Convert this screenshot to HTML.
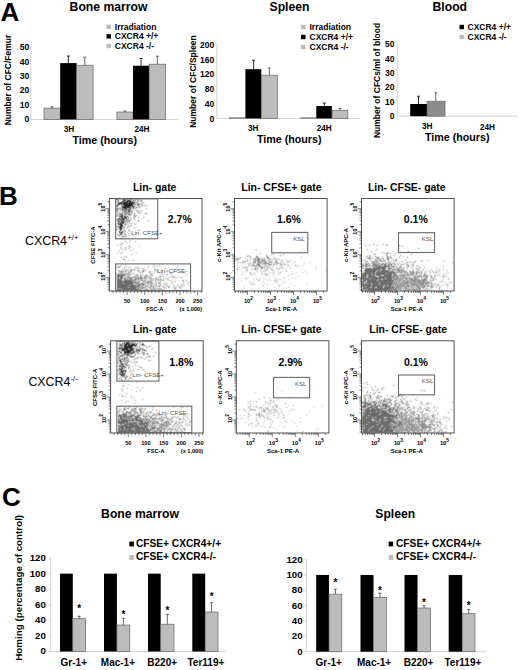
<!DOCTYPE html>
<html><head><meta charset="utf-8"><style>
html,body{margin:0;padding:0;background:#fff;overflow:hidden;width:520px;height:670px;}
svg{display:block;}
text{font-family:"Liberation Sans", sans-serif;}
</style></head><body>
<svg width="520" height="670" viewBox="0 0 520 670">
<defs><filter id="bl" x="-5%" y="-5%" width="110%" height="110%"><feConvolveMatrix order="3" kernelMatrix="1 2 1 2 8 2 1 2 1" edgeMode="none"/></filter></defs>
<rect width="520" height="670" fill="#fff"/>
<text x="0.5" y="21" font-size="26" font-weight="bold" text-anchor="start" fill="#000" >A</text>
<text x="69.6" y="11.2" font-size="12.2" font-weight="bold" text-anchor="start" fill="#000" >Bone marrow</text>
<rect x="106.50" y="24.60" width="4.50" height="4.40" fill="#bcbcbc"/>
<text x="114.8" y="29.8" font-size="8.5" font-weight="bold" text-anchor="start" fill="#000" >Irradiation</text>
<rect x="106.50" y="34.20" width="4.50" height="4.40" fill="#000"/>
<text x="114.8" y="39.4" font-size="8.5" font-weight="bold" text-anchor="start" fill="#000" >CXCR4 +/+</text>
<rect x="106.50" y="43.80" width="4.50" height="4.40" fill="#bcbcbc"/>
<text x="114.8" y="49.0" font-size="8.5" font-weight="bold" text-anchor="start" fill="#000" >CXCR4 -/-</text>
<line x1="30.8" y1="46" x2="30.8" y2="119.5" stroke="#c8c8c8" stroke-width="0.8"/>
<line x1="30.8" y1="119.5" x2="178" y2="119.5" stroke="#c8c8c8" stroke-width="0.8"/>
<text x="29.2" y="122.4" font-size="8.6" font-weight="bold" text-anchor="end" fill="#000" >0</text>
<line x1="29.8" y1="119.4" x2="30.8" y2="119.4" stroke="#c8c8c8" stroke-width="0.6"/>
<text x="29.2" y="107.94" font-size="8.6" font-weight="bold" text-anchor="end" fill="#000" >10</text>
<line x1="29.8" y1="104.94000000000001" x2="30.8" y2="104.94000000000001" stroke="#c8c8c8" stroke-width="0.6"/>
<text x="29.2" y="93.48" font-size="8.6" font-weight="bold" text-anchor="end" fill="#000" >20</text>
<line x1="29.8" y1="90.48" x2="30.8" y2="90.48" stroke="#c8c8c8" stroke-width="0.6"/>
<text x="29.2" y="79.02" font-size="8.6" font-weight="bold" text-anchor="end" fill="#000" >30</text>
<line x1="29.8" y1="76.02000000000001" x2="30.8" y2="76.02000000000001" stroke="#c8c8c8" stroke-width="0.6"/>
<text x="29.2" y="64.56" font-size="8.6" font-weight="bold" text-anchor="end" fill="#000" >40</text>
<line x1="29.8" y1="61.56000000000001" x2="30.8" y2="61.56000000000001" stroke="#c8c8c8" stroke-width="0.6"/>
<text x="29.2" y="50.1" font-size="8.6" font-weight="bold" text-anchor="end" fill="#000" >50</text>
<line x1="29.8" y1="47.10000000000001" x2="30.8" y2="47.10000000000001" stroke="#c8c8c8" stroke-width="0.6"/>
<rect x="44.00" y="108.10" width="16.20" height="11.40" fill="#bcbcbc" stroke="#666" stroke-width="0.7"/>
<line x1="52.1" y1="106.8" x2="52.1" y2="108.1" stroke="#444" stroke-width="0.8"/>
<line x1="50.6" y1="106.8" x2="53.6" y2="106.8" stroke="#444" stroke-width="0.8"/>
<rect x="60.20" y="63.10" width="16.40" height="56.40" fill="#000"/>
<line x1="68.4" y1="56" x2="68.4" y2="63.1" stroke="#000" stroke-width="0.8"/>
<line x1="66.9" y1="56" x2="69.9" y2="56" stroke="#000" stroke-width="0.8"/>
<rect x="76.60" y="65.25" width="16.50" height="54.25" fill="#bcbcbc" stroke="#666" stroke-width="0.7"/>
<line x1="84.8" y1="57.2" x2="84.8" y2="65.25" stroke="#444" stroke-width="0.8"/>
<line x1="83.3" y1="57.2" x2="86.3" y2="57.2" stroke="#444" stroke-width="0.8"/>
<rect x="116.90" y="112.00" width="16.10" height="7.50" fill="#bcbcbc" stroke="#666" stroke-width="0.7"/>
<line x1="125" y1="111" x2="125" y2="112" stroke="#444" stroke-width="0.8"/>
<line x1="123.5" y1="111" x2="126.5" y2="111" stroke="#444" stroke-width="0.8"/>
<rect x="133.00" y="65.70" width="16.20" height="53.80" fill="#000"/>
<line x1="141.1" y1="58.5" x2="141.1" y2="65.7" stroke="#000" stroke-width="0.8"/>
<line x1="139.6" y1="58.5" x2="142.6" y2="58.5" stroke="#000" stroke-width="0.8"/>
<rect x="149.20" y="64.20" width="16.50" height="55.30" fill="#bcbcbc" stroke="#666" stroke-width="0.7"/>
<line x1="157.4" y1="56.2" x2="157.4" y2="64.2" stroke="#444" stroke-width="0.8"/>
<line x1="155.9" y1="56.2" x2="158.9" y2="56.2" stroke="#444" stroke-width="0.8"/>
<text x="63.75" y="132" font-size="8.2" font-weight="bold" text-anchor="start" fill="#000" >3H</text>
<text x="134.5" y="132" font-size="8.2" font-weight="bold" text-anchor="start" fill="#000" >24H</text>
<text x="72.5" y="143.8" font-size="10.7" font-weight="bold" text-anchor="start" fill="#000" >Time (hours)</text>
<text transform="translate(10.6,80) rotate(-90)" font-size="8.5" font-weight="bold" text-anchor="middle" fill="#000">Number of CFC/Femur</text>
<text x="269.5" y="10.9" font-size="12.2" font-weight="bold" text-anchor="start" fill="#000" >Spleen</text>
<rect x="301.00" y="24.80" width="4.50" height="4.40" fill="#bcbcbc"/>
<text x="309.5" y="30" font-size="8.5" font-weight="bold" text-anchor="start" fill="#000" >Irradiation</text>
<rect x="301.00" y="34.80" width="4.50" height="4.40" fill="#000"/>
<text x="309.5" y="40" font-size="8.5" font-weight="bold" text-anchor="start" fill="#000" >CXCR4 +/+</text>
<rect x="301.00" y="44.80" width="4.50" height="4.40" fill="#bcbcbc"/>
<text x="309.5" y="50" font-size="8.5" font-weight="bold" text-anchor="start" fill="#000" >CXCR4 -/-</text>
<line x1="216.8" y1="44" x2="216.8" y2="118.5" stroke="#c8c8c8" stroke-width="0.8"/>
<line x1="216.8" y1="118.5" x2="359.6" y2="118.5" stroke="#c8c8c8" stroke-width="0.8"/>
<text x="214.3" y="121.5" font-size="8.5" font-weight="bold" text-anchor="end" fill="#000" >0</text>
<text x="214.3" y="106.76" font-size="8.5" font-weight="bold" text-anchor="end" fill="#000" >40</text>
<text x="214.3" y="92.02" font-size="8.5" font-weight="bold" text-anchor="end" fill="#000" >80</text>
<text x="214.3" y="77.28" font-size="8.5" font-weight="bold" text-anchor="end" fill="#000" >120</text>
<text x="214.3" y="62.54" font-size="8.5" font-weight="bold" text-anchor="end" fill="#000" >160</text>
<text x="214.3" y="47.8" font-size="8.5" font-weight="bold" text-anchor="end" fill="#000" >200</text>
<rect x="229.60" y="117.60" width="15.80" height="0.90" fill="#bcbcbc" stroke="#666" stroke-width="0.5"/>
<rect x="245.40" y="69.20" width="15.90" height="49.30" fill="#000"/>
<line x1="253.6" y1="60.2" x2="253.6" y2="69.2" stroke="#000" stroke-width="0.8"/>
<line x1="252.1" y1="60.2" x2="255.1" y2="60.2" stroke="#000" stroke-width="0.8"/>
<rect x="261.30" y="75.20" width="16.00" height="43.30" fill="#bcbcbc" stroke="#666" stroke-width="0.7"/>
<line x1="269.3" y1="67.9" x2="269.3" y2="75.2" stroke="#444" stroke-width="0.8"/>
<line x1="267.8" y1="67.9" x2="270.8" y2="67.9" stroke="#444" stroke-width="0.8"/>
<rect x="300.80" y="117.60" width="15.50" height="0.90" fill="#bcbcbc" stroke="#666" stroke-width="0.5"/>
<rect x="316.30" y="106.00" width="15.60" height="12.50" fill="#000"/>
<line x1="324.3" y1="103" x2="324.3" y2="106" stroke="#000" stroke-width="0.8"/>
<line x1="322.8" y1="103" x2="325.8" y2="103" stroke="#000" stroke-width="0.8"/>
<rect x="332.20" y="110.30" width="15.60" height="8.20" fill="#bcbcbc" stroke="#666" stroke-width="0.7"/>
<line x1="340" y1="108.5" x2="340" y2="110.3" stroke="#444" stroke-width="0.8"/>
<line x1="338.5" y1="108.5" x2="341.5" y2="108.5" stroke="#444" stroke-width="0.8"/>
<text x="247.9" y="131.3" font-size="8.2" font-weight="bold" text-anchor="start" fill="#000" >3H</text>
<text x="316.7" y="131" font-size="8.2" font-weight="bold" text-anchor="start" fill="#000" >24H</text>
<text x="257" y="142.7" font-size="10.7" font-weight="bold" text-anchor="start" fill="#000" >Time (hours)</text>
<text transform="translate(195.6,81.5) rotate(-90)" font-size="8.5" font-weight="bold" text-anchor="middle" fill="#000">Number of CFC/Spleen</text>
<text x="432.5" y="11.25" font-size="12.2" font-weight="bold" text-anchor="start" fill="#000" >Blood</text>
<rect x="459.50" y="24.80" width="4.50" height="4.40" fill="#000"/>
<text x="467.5" y="30" font-size="8.5" font-weight="bold" text-anchor="start" fill="#000" >CXCR4 +/+</text>
<rect x="459.50" y="34.80" width="4.50" height="4.40" fill="#bcbcbc"/>
<text x="467.5" y="40" font-size="8.5" font-weight="bold" text-anchor="start" fill="#000" >CXCR4 -/-</text>
<line x1="397.3" y1="44" x2="397.3" y2="116.2" stroke="#c8c8c8" stroke-width="0.8"/>
<line x1="397.3" y1="116.2" x2="517.5" y2="116.2" stroke="#c8c8c8" stroke-width="0.8"/>
<text x="394.5" y="119.0" font-size="8.5" font-weight="bold" text-anchor="end" fill="#000" >0</text>
<text x="394.5" y="104.68" font-size="8.5" font-weight="bold" text-anchor="end" fill="#000" >10</text>
<text x="394.5" y="90.36" font-size="8.5" font-weight="bold" text-anchor="end" fill="#000" >20</text>
<text x="394.5" y="76.04" font-size="8.5" font-weight="bold" text-anchor="end" fill="#000" >30</text>
<text x="394.5" y="61.72" font-size="8.5" font-weight="bold" text-anchor="end" fill="#000" >40</text>
<text x="394.5" y="47.4" font-size="8.5" font-weight="bold" text-anchor="end" fill="#000" >50</text>
<rect x="410.20" y="104.00" width="16.90" height="12.20" fill="#000"/>
<line x1="418.5" y1="96.2" x2="418.5" y2="104" stroke="#000" stroke-width="0.8"/>
<line x1="417.0" y1="96.2" x2="420.0" y2="96.2" stroke="#000" stroke-width="0.8"/>
<rect x="427.10" y="101.20" width="17.90" height="15.00" fill="#8c8c8c" stroke="#6a6a6a" stroke-width="0.7"/>
<line x1="435.8" y1="92.8" x2="435.8" y2="101.2" stroke="#444" stroke-width="0.8"/>
<line x1="434.3" y1="92.8" x2="437.3" y2="92.8" stroke="#444" stroke-width="0.8"/>
<text x="421.9" y="128.5" font-size="8.2" font-weight="bold" text-anchor="start" fill="#000" >3H</text>
<text x="480" y="129.5" font-size="8.2" font-weight="bold" text-anchor="start" fill="#000" >24H</text>
<text x="425" y="140.7" font-size="10.7" font-weight="bold" text-anchor="start" fill="#000" >Time (hours)</text>
<text transform="translate(379.6,80.5) rotate(-90)" font-size="8.5" font-weight="bold" text-anchor="middle" fill="#000">Number of CFCs/ml of blood</text>
<text x="-1" y="204.6" font-size="26" font-weight="bold" text-anchor="start" fill="#000" >B</text>
<text x="25" y="245.4" font-size="12.4" font-weight="normal" text-anchor="start" fill="#000" >CXCR4</text>
<text x="67.2" y="240.4" font-size="7.8" font-weight="normal" text-anchor="start" fill="#000" >+/+</text>
<text x="28.4" y="386.4" font-size="12.4" font-weight="normal" text-anchor="start" fill="#000" >CXCR4</text>
<text x="70.4" y="381.4" font-size="7.8" font-weight="normal" text-anchor="start" fill="#000" >-/-</text>
<text x="2" y="506" font-size="26" font-weight="bold" text-anchor="start" fill="#000" >C</text>
<text x="154.7" y="190.9" font-size="10.45" font-weight="bold" text-anchor="middle" fill="#000" >Lin- gate</text>
<path transform="translate(0 0.5)" d="M116 199h1m0 0h1m5 0h1m0 0h1m6 0h1m-14 1h1m4 0h1m0 0h1m0 0h1m1 0h1m0 0h1m0 0h1m0 0h1m2 0h1m1 0h1m2 0h1m-22 1h1m4 0h1m1 0h1m1 0h1m0 0h1m0 0h1m0 0h1m0 0h1m1 0h1m8 0h1m-24 1h1m1 0h1m0 0h1m0 0h1m0 0h1m0 0h1m0 0h1m0 0h1m0 0h1m1 0h1m0 0h1m0 0h1m0 0h1m0 0h1m0 0h1m2 0h1m-20 1h1m0 0h1m0 0h1m0 0h1m1 0h1m0 0h1m0 0h1m0 0h1m0 0h1m0 0h1m0 0h1m0 0h1m0 0h1m0 0h1m0 0h1m-17 1h1m0 0h1m0 0h1m1 0h1m0 0h1m0 0h1m0 0h1m0 0h1m0 0h1m0 0h1m0 0h1m0 0h1m0 0h1m0 0h1m0 0h1m1 0h1m2 0h1m0 0h1m0 0h1m-23 1h1m6 0h1m0 0h1m0 0h1m0 0h1m0 0h1m0 0h1m0 0h1m0 0h1m0 0h1m-16 1h1m4 0h1m0 0h1m0 0h1m0 0h1m0 0h1m0 0h1m0 0h1m0 0h1m0 0h1m1 0h1m0 0h1m0 0h1m-13 1h1m0 0h1m0 0h1m0 0h1m0 0h1m0 0h1m0 0h1m0 0h1m1 0h1m1 0h1m2 0h1m-20 1h1m2 0h1m1 0h1m1 0h1m0 0h1m0 0h1m2 0h1m0 0h1m2 0h1m-12 1h1m1 0h1m1 0h1m1 0h1m1 0h1m-6 1h1m0 0h1m1 0h1m0 0h1m-13 1h1m10 0h1m0 0h1m1 0h1m-8 1h1m1 0h1m2 0h1m-11 1h1m1 0h1m3 0h1m1 0h1m-8 1h1m1 0h1m1 0h1m-8 1h1m3 0h1m0 0h1m-4 1h1m0 0h1m0 0h1m0 0h1m1 0h1m0 0h1m1 0h1m-7 1h1m0 0h1m1 0h1m0 0h1m0 0h1m-9 1h1m0 0h1m2 0h1m0 0h1m1 0h1m0 0h1m-10 1h1m1 0h1m0 0h1m0 0h1m0 0h1m0 0h1m0 0h1m5 0h1m-14 1h1m3 0h1m1 0h1m2 0h1m1 0h1m-11 1h1m0 0h1m1 0h1m0 0h1m0 0h1m1 0h1m3 0h1m-12 1h1m1 0h1m1 0h1m0 0h1m3 0h1m-10 1h1m1 0h1m0 0h1m0 0h1m0 0h1m-6 1h1m0 0h1m0 0h1m0 0h1m3 0h1m-6 1h1m0 0h1m0 0h1m-7 1h1m1 0h1m1 0h1m0 0h1m0 0h1m-4 1h1m0 0h1m0 0h1m-3 1h1m0 0h1m0 0h1m-6 1h1m3 0h1m0 0h1m-2 1h1m3 0h1m-6 1h1m2 0h1m-4 1h1m0 0h1m0 0h1m0 0h1m-2 1h1m2 0h1m-5 1h1m0 0h1m-3 1h1m2 1h1m1 0h1m-4 2h1" stroke="#252525" stroke-width="1" fill="none" filter="url(#bl)"/>
<path transform="translate(0 0.5)" d="M125 199h1m0 0h1m0 0h1m2 0h1m5 0h1m-3 1h1m5 0h1m0 0h1m-19 1h1m13 0h1m-3 1h1m7 0h1m-10 1h1m2 0h1m4 0h1m-8 1h1m5 0h1m-26 1h1m4 0h1m15 0h1m0 0h1m3 0h1m1 0h1m1 0h1m-31 1h1m4 0h1m17 0h1m1 0h1m-12 1h1m6 0h1m1 0h1m-24 1h1m1 0h1m0 0h1m7 0h1m7 0h1m10 0h1m-31 1h1m0 0h1m3 0h1m1 0h1m1 0h1m1 0h1m1 0h1m1 0h1m-16 1h1m1 0h1m1 0h1m1 0h1m0 0h1m0 0h1m8 0h1m2 0h1m0 0h1m2 0h1m-19 1h1m1 0h1m0 0h1m0 0h1m3 0h1m7 0h1m2 0h1m-25 1h1m5 0h1m3 0h1m3 0h1m0 0h1m4 0h1m1 0h1m-20 1h1m1 0h1m5 0h1m0 0h1m4 0h1m4 0h1m5 0h1m0 0h1m-31 1h1m1 0h1m2 0h1m3 0h1m0 0h1m1 0h1m0 0h1m0 0h1m0 0h1m2 0h1m-16 1h1m0 0h1m4 0h1m3 0h1m4 0h1m1 0h1m-3 1h1m0 0h1m-16 1h1m2 0h1m4 0h1m1 0h1m2 0h1m4 0h1m4 0h1m-24 1h1m0 0h1m2 0h1m3 0h1m5 0h1m-17 1h1m8 0h1m6 0h1m-17 1h1m0 0h1m4 0h1m2 0h1m10 0h1m9 0h1m-29 1h1m17 0h1m-18 1h1m2 0h1m0 0h1m-9 1h1m1 0h1m9 0h1m1 0h1m2 0h1m-11 1h1m1 0h1m8 0h1m-8 1h1m2 0h1m-15 1h1m1 0h1m4 0h1m3 0h1m1 0h1m-9 1h1m1 0h1m2 0h1m6 0h1m-12 1h1m-7 1h1m11 0h1m-2 1h1m9 0h1m0 0h1m-17 1h1m1 0h1m3 0h1m-2 2h1m-12 1h1m0 0h1m6 0h1m-1 1h1m3 0h1m-7 1h1m2 0h1m6 0h1m-18 2h1" stroke="#7a7a7a" stroke-width="1" fill="none" filter="url(#bl)"/>
<path transform="translate(0 0.5)" d="M120 238h1m3 1h1m4 0h1m0 1h1m-6 1h1m9 0h1m-10 1h1m2 0h1m-9 1h1m0 0h1m-3 1h1m-4 1h1m3 0h1m7 0h1m-1 1h1m9 0h1m-20 1h1m4 0h1m2 0h1m2 0h1m-11 1h1m3 0h1m2 0h1m-7 1h1m2 0h1m7 0h1m-4 1h1m-12 1h1m2 1h1m-6 1h1m3 0h1m14 0h1m-6 1h1m-8 2h1m1 0h1m-6 1h1m4 0h1m-4 1h1m-1 1h1m0 0h1m0 1h1m2 0h1m3 0h1m1 0h1m-14 4h1" stroke="#999" stroke-width="1" fill="none" filter="url(#bl)"/>
<path transform="translate(0 0.5)" d="M125 264h1m-8 2h1m1 0h1m5 0h1m-10 1h1m1 0h1m4 0h1m10 0h1m1 0h1m0 1h1m4 0h1m-22 1h1m5 0h1m2 0h1m1 0h1m-16 1h1m6 0h1m0 0h1m4 0h1m2 0h1m2 0h1m1 0h1m3 0h1m0 0h1m-26 1h1m0 0h1m0 0h1m0 0h1m2 0h1m3 0h1m1 0h1m6 0h1m3 0h1m0 0h1m23 0h1m-40 1h1m11 0h1m-21 1h1m0 0h1m4 0h1m1 0h1m-12 1h1m0 0h1m0 0h1m1 0h1m0 0h1m0 0h1m0 0h1m0 0h1m1 0h1m1 0h1m0 0h1m6 0h1m29 0h1m-51 1h1m0 0h1m0 0h1m0 0h1m0 0h1m0 0h1m0 0h1m0 0h1m11 0h1m8 0h1m0 0h1m-30 1h1m0 0h1m0 0h1m0 0h1m0 0h1m0 0h1m4 0h1m0 0h1m11 0h1m0 0h1m3 0h1m1 0h1m11 0h1m0 0h1m-44 1h1m0 0h1m1 0h1m0 0h1m0 0h1m1 0h1m3 0h1m1 0h1m0 0h1m1 0h1m0 0h1m1 0h1m3 0h1m3 0h1m1 0h1m2 0h1m6 0h1m-40 1h1m0 0h1m1 0h1m0 0h1m0 0h1m1 0h1m0 0h1m1 0h1m1 0h1m0 0h1m0 0h1m3 0h1m1 0h1m0 0h1m0 0h1m0 0h1m0 0h1m2 0h1m0 0h1m-29 1h1m0 0h1m0 0h1m0 0h1m0 0h1m2 0h1m0 0h1m1 0h1m1 0h1m1 0h1m0 0h1m1 0h1m0 0h1m0 0h1m1 0h1m2 0h1m8 0h1m9 0h1m6 0h1m-51 1h1m0 0h1m0 0h1m0 0h1m0 0h1m2 0h1m0 0h1m0 0h1m0 0h1m0 0h1m0 0h1m0 0h1m0 0h1m1 0h1m0 0h1m6 0h1m9 0h1m1 0h1m4 0h1m1 0h1m2 0h1m5 0h1m13 0h1m2 0h1m-70 1h1m0 0h1m0 0h1m0 0h1m0 0h1m0 0h1m0 0h1m0 0h1m0 0h1m0 0h1m0 0h1m0 0h1m0 0h1m0 0h1m0 0h1m0 0h1m1 0h1m3 0h1m0 0h1m3 0h1m3 0h1m1 0h1m0 0h1m4 0h1m-39 1h1m0 0h1m0 0h1m0 0h1m0 0h1m0 0h1m0 0h1m0 0h1m0 0h1m0 0h1m0 0h1m0 0h1m0 0h1m0 0h1m0 0h1m0 0h1m0 0h1m0 0h1m0 0h1m0 0h1m0 0h1m0 0h1m5 0h1m1 0h1m0 0h1m12 0h1m27 0h1m-72 1h1m0 0h1m0 0h1m0 0h1m0 0h1m0 0h1m1 0h1m0 0h1m0 0h1m0 0h1m0 0h1m0 0h1m0 0h1m0 0h1m0 0h1m2 0h1m0 0h1m1 0h1m2 0h1m0 0h1m0 0h1m14 0h1m-42 1h1m0 0h1m0 0h1m0 0h1m0 0h1m0 0h1m0 0h1m0 0h1m0 0h1m0 0h1m0 0h1m0 0h1m0 0h1m0 0h1m0 0h1m0 0h1m0 0h1m2 0h1m1 0h1m0 0h1m0 0h1m1 0h1m0 0h1m6 0h1m0 0h1m2 0h1m11 0h1m-50 1h1m0 0h1m0 0h1m0 0h1m0 0h1m0 0h1m0 0h1m0 0h1m0 0h1m0 0h1m0 0h1m0 0h1m1 0h1m0 0h1m0 0h1m0 0h1m0 0h1m0 0h1m1 0h1m0 0h1m0 0h1m0 0h1m1 0h1m0 0h1m15 0h1m-43 1h1m0 0h1m0 0h1m0 0h1m0 0h1m0 0h1m0 0h1m0 0h1m0 0h1m0 0h1m0 0h1m0 0h1m0 0h1m0 0h1m0 0h1m0 0h1m0 0h1m0 0h1m0 0h1m0 0h1m0 0h1m0 0h1m2 0h1m3 0h1m1 0h1m3 0h1m1 0h1m3 0h1m1 0h1m3 0h1m-47 1h1m0 0h1m0 0h1m0 0h1m0 0h1m0 0h1m0 0h1m0 0h1m0 0h1m0 0h1m0 0h1m1 0h1m0 0h1m0 0h1m0 0h1m0 0h1m0 0h1m0 0h1m0 0h1m1 0h1m0 0h1m2 0h1m0 0h1m0 0h1m5 0h1m2 0h1m-37 1h1m0 0h1m1 0h1m0 0h1m0 0h1m0 0h1m0 0h1m0 0h1m0 0h1m0 0h1m0 0h1m0 0h1m0 0h1m0 0h1m0 0h1m0 0h1m0 0h1m0 0h1m1 0h1m0 0h1m2 0h1m0 0h1m7 0h1m1 0h1m6 0h1m-43 1h1m0 0h1m0 0h1m0 0h1m1 0h1m0 0h1m0 0h1m0 0h1m0 0h1m0 0h1m0 0h1m0 0h1m0 0h1m0 0h1m0 0h1m0 0h1m0 0h1m0 0h1m0 0h1m0 0h1m1 0h1m0 0h1m4 0h1m0 0h1m0 0h1m3 0h1m2 0h1m0 0h1m5 0h1m-45 1h1m0 0h1m0 0h1m0 0h1m0 0h1m0 0h1m0 0h1m0 0h1m0 0h1m0 0h1m0 0h1m0 0h1m1 0h1m0 0h1m1 0h1m0 0h1m0 0h1m0 0h1m0 0h1m0 0h1m0 0h1m0 0h1m1 0h1m0 0h1m0 0h1m0 0h1m0 0h1m31 0h1m5 0h1" stroke="#6a6a6a" stroke-width="1" fill="none" filter="url(#bl)"/>
<path transform="translate(0 0.5)" d="M154 265h1m4 0h1m-12 1h1m3 0h1m4 0h1m19 0h1m-49 1h1m0 0h1m16 0h1m6 0h1m-31 1h1m16 0h1m23 0h1m-31 1h1m10 0h1m7 0h1m0 0h1m10 0h1m-43 1h1m2 0h1m2 0h1m24 0h1m0 0h1m1 0h1m8 0h1m5 0h1m2 0h1m-54 1h1m25 0h1m0 0h1m-31 1h1m1 0h1m0 0h1m2 0h1m2 0h1m0 0h1m11 0h1m6 0h1m4 0h1m4 0h1m1 0h1m8 0h1m13 0h1m-67 1h1m3 0h1m1 0h1m7 0h1m0 0h1m16 0h1m1 0h1m17 0h1m0 0h1m10 0h1m-63 1h1m7 0h1m11 0h1m1 0h1m7 0h1m0 0h1m8 0h1m1 0h1m23 0h1m-61 1h1m2 0h1m5 0h1m1 0h1m2 0h1m10 0h1m0 0h1m13 0h1m5 0h1m-48 1h1m7 0h1m1 0h1m0 0h1m1 0h1m5 0h1m1 0h1m1 0h1m1 0h1m11 0h1m0 0h1m5 0h1m3 0h1m0 0h1m-49 1h1m0 0h1m1 0h1m5 0h1m1 0h1m0 0h1m2 0h1m0 0h1m7 0h1m9 0h1m10 0h1m1 0h1m1 0h1m1 0h1m1 0h1m1 0h1m0 0h1m-47 1h1m5 0h1m4 0h1m1 0h1m0 0h1m0 0h1m0 0h1m2 0h1m2 0h1m4 0h1m1 0h1m0 0h1m1 0h1m-39 1h1m8 0h1m2 0h1m2 0h1m7 0h1m1 0h1m0 0h1m0 0h1m0 0h1m2 0h1m-40 1h1m0 0h1m8 0h1m2 0h1m1 0h1m2 0h1m1 0h1m0 0h1m0 0h1m0 0h1m2 0h1m7 0h1m5 0h1m8 0h1m10 0h1m-48 1h1m0 0h1m8 0h1m2 0h1m2 0h1m21 0h1m1 0h1m7 0h1m-42 1h1m5 0h1m0 0h1m0 0h1m0 0h1m0 0h1m3 0h1m1 0h1m0 0h1m6 0h1m5 0h1m10 0h1m-51 1h1m3 0h1m1 0h1m0 0h1m3 0h1m1 0h1m0 0h1m0 0h1m1 0h1m0 0h1m0 0h1m2 0h1m3 0h1m4 0h1m6 0h1m14 0h1m-53 1h1m9 0h1m0 0h1m2 0h1m7 0h1m3 0h1m2 0h1m1 0h1m7 0h1m3 0h1m3 0h1m1 0h1m4 0h1m-60 1h1m11 0h1m3 0h1m1 0h1m2 0h1m0 0h1m1 0h1m1 0h1m0 0h1m3 0h1m5 0h1m2 0h1m11 0h1m2 0h1m-46 1h1m2 0h1m3 0h1m1 0h1m1 0h1m1 0h1m9 0h1m4 0h1m0 0h1m5 0h1m2 0h1m1 0h1m2 0h1m-46 1h1m2 0h1m0 0h1m3 0h1m3 0h1m5 0h1m8 0h1m0 0h1m2 0h1m0 0h1m3 0h1m1 0h1m3 0h1m0 0h1m-45 1h1m6 0h1m2 0h1m2 0h1m4 0h1m0 0h1m1 0h1m0 0h1m1 0h1m3 0h1m9 0h1m0 0h1m5 0h1m-44 1h1m2 0h1m11 0h1m4 0h1m1 0h1m1 0h1m12 0h1m-35 1h1m5 0h1m1 0h1m0 0h1m0 0h1m1 0h1m3 0h1m1 0h1m2 0h1m0 0h1m8 0h1m4 0h1m9 0h1" stroke="#9a9a9a" stroke-width="1" fill="none" filter="url(#bl)"/>
<rect x="109.4" y="198.5" width="92.60" height="92.50" fill="none" stroke="#505050" stroke-width="1.0"/>
<line x1="107.4" y1="289.73" x2="109.4" y2="289.73" stroke="#333" stroke-width="0.6"/>
<line x1="107.4" y1="286.85" x2="109.4" y2="286.85" stroke="#333" stroke-width="0.6"/>
<line x1="107.4" y1="284.62" x2="109.4" y2="284.62" stroke="#333" stroke-width="0.6"/>
<line x1="107.4" y1="282.8" x2="109.4" y2="282.8" stroke="#333" stroke-width="0.6"/>
<line x1="107.4" y1="281.26" x2="109.4" y2="281.26" stroke="#333" stroke-width="0.6"/>
<line x1="107.4" y1="279.93" x2="109.4" y2="279.93" stroke="#333" stroke-width="0.6"/>
<line x1="107.4" y1="278.75" x2="109.4" y2="278.75" stroke="#333" stroke-width="0.6"/>
<line x1="105.4" y1="277.7" x2="109.4" y2="277.7" stroke="#333" stroke-width="0.6"/>
<line x1="107.4" y1="270.78" x2="109.4" y2="270.78" stroke="#333" stroke-width="0.6"/>
<line x1="107.4" y1="266.73" x2="109.4" y2="266.73" stroke="#333" stroke-width="0.6"/>
<line x1="107.4" y1="263.85" x2="109.4" y2="263.85" stroke="#333" stroke-width="0.6"/>
<line x1="107.4" y1="261.62" x2="109.4" y2="261.62" stroke="#333" stroke-width="0.6"/>
<line x1="107.4" y1="259.8" x2="109.4" y2="259.8" stroke="#333" stroke-width="0.6"/>
<line x1="107.4" y1="258.26" x2="109.4" y2="258.26" stroke="#333" stroke-width="0.6"/>
<line x1="107.4" y1="256.93" x2="109.4" y2="256.93" stroke="#333" stroke-width="0.6"/>
<line x1="107.4" y1="255.75" x2="109.4" y2="255.75" stroke="#333" stroke-width="0.6"/>
<line x1="105.4" y1="254.7" x2="109.4" y2="254.7" stroke="#333" stroke-width="0.6"/>
<line x1="107.4" y1="247.78" x2="109.4" y2="247.78" stroke="#333" stroke-width="0.6"/>
<line x1="107.4" y1="243.73" x2="109.4" y2="243.73" stroke="#333" stroke-width="0.6"/>
<line x1="107.4" y1="240.85" x2="109.4" y2="240.85" stroke="#333" stroke-width="0.6"/>
<line x1="107.4" y1="238.62" x2="109.4" y2="238.62" stroke="#333" stroke-width="0.6"/>
<line x1="107.4" y1="236.8" x2="109.4" y2="236.8" stroke="#333" stroke-width="0.6"/>
<line x1="107.4" y1="235.26" x2="109.4" y2="235.26" stroke="#333" stroke-width="0.6"/>
<line x1="107.4" y1="233.93" x2="109.4" y2="233.93" stroke="#333" stroke-width="0.6"/>
<line x1="107.4" y1="232.75" x2="109.4" y2="232.75" stroke="#333" stroke-width="0.6"/>
<line x1="105.4" y1="231.7" x2="109.4" y2="231.7" stroke="#333" stroke-width="0.6"/>
<line x1="107.4" y1="224.78" x2="109.4" y2="224.78" stroke="#333" stroke-width="0.6"/>
<line x1="107.4" y1="220.73" x2="109.4" y2="220.73" stroke="#333" stroke-width="0.6"/>
<line x1="107.4" y1="217.85" x2="109.4" y2="217.85" stroke="#333" stroke-width="0.6"/>
<line x1="107.4" y1="215.62" x2="109.4" y2="215.62" stroke="#333" stroke-width="0.6"/>
<line x1="107.4" y1="213.8" x2="109.4" y2="213.8" stroke="#333" stroke-width="0.6"/>
<line x1="107.4" y1="212.26" x2="109.4" y2="212.26" stroke="#333" stroke-width="0.6"/>
<line x1="107.4" y1="210.93" x2="109.4" y2="210.93" stroke="#333" stroke-width="0.6"/>
<line x1="107.4" y1="209.75" x2="109.4" y2="209.75" stroke="#333" stroke-width="0.6"/>
<line x1="105.4" y1="208.7" x2="109.4" y2="208.7" stroke="#333" stroke-width="0.6"/>
<line x1="107.4" y1="201.78" x2="109.4" y2="201.78" stroke="#333" stroke-width="0.6"/>
<text transform="translate(104.80,211.70) rotate(-90)" font-size="5.6" font-weight="bold">10<tspan dy="-3.2" font-size="4.8">5</tspan></text>
<text transform="translate(104.80,234.70) rotate(-90)" font-size="5.6" font-weight="bold">10<tspan dy="-3.2" font-size="4.8">4</tspan></text>
<text transform="translate(104.80,257.70) rotate(-90)" font-size="5.6" font-weight="bold">10<tspan dy="-3.2" font-size="4.8">3</tspan></text>
<text transform="translate(104.80,280.70) rotate(-90)" font-size="5.6" font-weight="bold">10<tspan dy="-3.2" font-size="4.8">2</tspan></text>
<text transform="translate(95.40,245.00) rotate(-90)" font-size="6.0" font-weight="bold" text-anchor="middle">CFSE FITC-A</text>
<line x1="112.93" y1="291.0" x2="112.93" y2="293.2" stroke="#333" stroke-width="0.6"/>
<line x1="116.46" y1="291.0" x2="116.46" y2="293.2" stroke="#333" stroke-width="0.6"/>
<line x1="120.0" y1="291.0" x2="120.0" y2="293.2" stroke="#333" stroke-width="0.6"/>
<line x1="123.53" y1="291.0" x2="123.53" y2="293.2" stroke="#333" stroke-width="0.6"/>
<line x1="127.06" y1="291.0" x2="127.06" y2="295.2" stroke="#333" stroke-width="0.6"/>
<line x1="130.59" y1="291.0" x2="130.59" y2="293.2" stroke="#333" stroke-width="0.6"/>
<line x1="134.13" y1="291.0" x2="134.13" y2="293.2" stroke="#333" stroke-width="0.6"/>
<line x1="137.66" y1="291.0" x2="137.66" y2="293.2" stroke="#333" stroke-width="0.6"/>
<line x1="141.19" y1="291.0" x2="141.19" y2="293.2" stroke="#333" stroke-width="0.6"/>
<line x1="144.72" y1="291.0" x2="144.72" y2="295.2" stroke="#333" stroke-width="0.6"/>
<line x1="148.26" y1="291.0" x2="148.26" y2="293.2" stroke="#333" stroke-width="0.6"/>
<line x1="151.79" y1="291.0" x2="151.79" y2="293.2" stroke="#333" stroke-width="0.6"/>
<line x1="155.32" y1="291.0" x2="155.32" y2="293.2" stroke="#333" stroke-width="0.6"/>
<line x1="158.85" y1="291.0" x2="158.85" y2="293.2" stroke="#333" stroke-width="0.6"/>
<line x1="162.39" y1="291.0" x2="162.39" y2="295.2" stroke="#333" stroke-width="0.6"/>
<line x1="165.92" y1="291.0" x2="165.92" y2="293.2" stroke="#333" stroke-width="0.6"/>
<line x1="169.45" y1="291.0" x2="169.45" y2="293.2" stroke="#333" stroke-width="0.6"/>
<line x1="172.98" y1="291.0" x2="172.98" y2="293.2" stroke="#333" stroke-width="0.6"/>
<line x1="176.52" y1="291.0" x2="176.52" y2="293.2" stroke="#333" stroke-width="0.6"/>
<line x1="180.05" y1="291.0" x2="180.05" y2="295.2" stroke="#333" stroke-width="0.6"/>
<line x1="183.58" y1="291.0" x2="183.58" y2="293.2" stroke="#333" stroke-width="0.6"/>
<line x1="187.11" y1="291.0" x2="187.11" y2="293.2" stroke="#333" stroke-width="0.6"/>
<line x1="190.65" y1="291.0" x2="190.65" y2="293.2" stroke="#333" stroke-width="0.6"/>
<line x1="194.18" y1="291.0" x2="194.18" y2="293.2" stroke="#333" stroke-width="0.6"/>
<line x1="197.71" y1="291.0" x2="197.71" y2="295.2" stroke="#333" stroke-width="0.6"/>
<line x1="201.24" y1="291.0" x2="201.24" y2="293.2" stroke="#333" stroke-width="0.6"/>
<text x="127.06" y="303.00" font-size="5.6" font-weight="bold" text-anchor="middle">50</text>
<text x="144.72" y="303.00" font-size="5.6" font-weight="bold" text-anchor="middle">100</text>
<text x="162.39" y="303.00" font-size="5.6" font-weight="bold" text-anchor="middle">150</text>
<text x="180.05" y="303.00" font-size="5.6" font-weight="bold" text-anchor="middle">200</text>
<text x="197.71" y="303.00" font-size="5.6" font-weight="bold" text-anchor="middle">250</text>
<text x="154.70" y="310.80" font-size="5.6" font-weight="bold" text-anchor="middle">FSC-A</text>
<text x="202.00" y="310.80" font-size="5.6" font-weight="bold" text-anchor="end">(x 1,000)</text>
<rect x="115.70" y="198.90" width="42.00" height="39.90" fill="none" stroke="#6a6a6a" stroke-width="1.1"/>
<rect x="115.60" y="263.90" width="75.00" height="26.70" fill="none" stroke="#6a6a6a" stroke-width="1.1"/>
<text x="131.00" y="235.10" font-size="6.1" fill="#555" text-anchor="start">Lin- CFSE+</text>
<text x="157.00" y="273.10" font-size="6.1" fill="#555" text-anchor="start">Lin- CFSE-</text>
<text x="167.8" y="223.3" font-size="10.5" font-weight="bold" text-anchor="start" fill="#000" >2.7%</text>
<text x="281.5" y="190.9" font-size="10.45" font-weight="bold" text-anchor="middle" fill="#000" >Lin- CFSE+ gate</text>
<path transform="translate(0 0.5)" d="M260 253h1m10 1h1m1 0h1m9 0h1m-18 1h1m13 0h1m-46 1h1m14 0h1m5 0h1m0 0h1m9 0h1m-28 1h1m9 0h1m5 0h1m0 0h1m9 0h1m0 0h1m-33 1h1m0 0h1m1 0h1m13 0h1m1 0h1m1 0h1m0 0h1m0 0h1m2 0h1m1 0h1m2 0h1m0 0h1m5 0h1m2 0h1m-43 1h1m1 0h1m0 0h1m8 0h1m2 0h1m3 0h1m0 0h1m1 0h1m0 0h1m0 0h1m2 0h1m1 0h1m4 0h1m0 0h1m1 0h1m2 0h1m3 0h1m-45 1h1m17 0h1m1 0h1m1 0h1m0 0h1m0 0h1m1 0h1m0 0h1m0 0h1m0 0h1m3 0h1m7 0h1m5 0h1m3 0h1m-45 1h1m1 0h1m0 0h1m1 0h1m6 0h1m0 0h1m1 0h1m0 0h1m1 0h1m2 0h1m0 0h1m0 0h1m3 0h1m1 0h1m3 0h1m0 0h1m12 0h1m-53 1h1m2 0h1m2 0h1m6 0h1m2 0h1m0 0h1m0 0h1m2 0h1m0 0h1m0 0h1m0 0h1m0 0h1m2 0h1m0 0h1m2 0h1m0 0h1m0 0h1m1 0h1m2 0h1m0 0h1m3 0h1m5 0h1m-46 1h1m6 0h1m3 0h1m3 0h1m0 0h1m1 0h1m2 0h1m0 0h1m0 0h1m0 0h1m0 0h1m0 0h1m6 0h1m1 0h1m1 0h1m-32 1h1m3 0h1m4 0h1m0 0h1m0 0h1m2 0h1m2 0h1m2 0h1m0 0h1m0 0h1m0 0h1m1 0h1m2 0h1m3 0h1m0 0h1m1 0h1m1 0h1m-37 1h1m1 0h1m1 0h1m0 0h1m1 0h1m0 0h1m0 0h1m0 0h1m4 0h1m4 0h1m3 0h1m14 0h1m6 0h1m-41 1h1m3 0h1m0 0h1m0 0h1m4 0h1m0 0h1m13 0h1m-40 1h1m1 0h1m1 0h1m0 0h1m8 0h1m1 0h1m2 0h1m0 0h1m1 0h1m3 0h1m13 0h1m-28 1h1m5 0h1m0 0h1m13 0h1m-40 1h1m9 0h1m3 0h1m2 0h1m0 0h1m1 0h1m9 0h1m3 0h1m0 1h1m-3 2h1m2 0h1m6 0h1m-30 2h1" stroke="#808080" stroke-width="1" fill="none" filter="url(#bl)"/>
<path transform="translate(0 0.5)" d="M266 248h1m-12 1h1m47 0h1m-48 1h1m14 0h1m9 1h1m18 0h1m-29 2h1m6 0h1m-12 1h1m-21 1h1m-3 1h1m0 0h1m0 0h1m17 0h1m34 0h1m-44 1h1m7 0h1m7 0h1m-30 1h1m23 0h1m-10 1h1m13 0h1m-38 1h1m9 0h1m6 0h1m11 0h1m13 0h1m10 0h1m-4 1h1m6 0h1m-13 1h1m9 0h1m16 0h1m-66 1h1m8 0h1m25 0h1m3 0h1m19 0h1m-51 1h1m19 0h1m12 0h1m-51 1h1m27 0h1m14 0h1m3 0h1m12 0h1m5 0h1m-55 1h1m2 0h1m1 0h1m8 0h1m23 0h1m8 0h1m2 0h1m16 0h1m-79 1h1m16 0h1m9 0h1m1 0h1m2 0h1m1 0h1m17 0h1m-46 1h1m6 0h1m1 0h1m1 0h1m10 0h1m2 0h1m7 0h1m0 0h1m1 0h1m2 0h1m30 0h1m-80 1h1m27 0h1m0 0h1m0 0h1m5 0h1m6 0h1m10 0h1m10 0h1m-65 1h1m8 0h1m0 0h1m12 0h1m0 0h1m3 0h1m8 0h1m2 0h1m8 0h1m17 0h1m20 0h1m-84 1h1m3 0h1m9 0h1m0 0h1m5 0h1m0 0h1m3 0h1m13 0h1m3 0h1m5 0h1m-44 1h1m0 0h1m3 0h1m6 0h1m16 0h1m17 0h1m5 0h1m-53 1h1m2 0h1m7 0h1m2 0h1m1 0h1m6 0h1m5 0h1m12 0h1m13 0h1m-66 1h1m1 0h1m10 0h1m7 0h1m2 0h1m0 0h1m0 0h1m1 0h1m8 0h1m11 0h1m-41 1h1m14 0h1m0 0h1m6 0h1m14 0h1m-20 1h1m27 0h1m-50 1h1m11 0h1m15 0h1m6 0h1m0 0h1m-40 1h1m0 0h1m9 0h1m6 0h1m1 0h1m8 0h1m17 0h1m2 0h1m-43 1h1m2 0h1m2 0h1m9 0h1m6 0h1m1 0h1m1 0h1m7 0h1m-48 1h1m16 0h1m0 0h1m7 0h1m2 0h1m3 0h1m0 0h1m0 0h1m-27 1h1m2 0h1m9 0h1m10 0h1m2 0h1m5 0h1m-48 1h1m12 0h1m12 0h1m13 0h1m8 0h1m-35 1h1m1 0h1m10 0h1m17 0h1m7 0h1m15 0h1m-57 1h1m1 0h1m1 0h1m12 0h1m11 0h1m-36 1h1m17 0h1m0 0h1m14 0h1m15 0h1m-16 1h1m-6 1h1m13 0h1m-45 1h1m6 0h1m6 0h1m8 0h1m18 0h1m20 0h1m-33 1h1m3 0h1" stroke="#b2b2b2" stroke-width="1" fill="none" filter="url(#bl)"/>
<rect x="234.5" y="198.5" width="92.60" height="92.50" fill="none" stroke="#505050" stroke-width="1.0"/>
<line x1="232.5" y1="289.73" x2="234.5" y2="289.73" stroke="#333" stroke-width="0.6"/>
<line x1="232.5" y1="286.85" x2="234.5" y2="286.85" stroke="#333" stroke-width="0.6"/>
<line x1="232.5" y1="284.62" x2="234.5" y2="284.62" stroke="#333" stroke-width="0.6"/>
<line x1="232.5" y1="282.8" x2="234.5" y2="282.8" stroke="#333" stroke-width="0.6"/>
<line x1="232.5" y1="281.26" x2="234.5" y2="281.26" stroke="#333" stroke-width="0.6"/>
<line x1="232.5" y1="279.93" x2="234.5" y2="279.93" stroke="#333" stroke-width="0.6"/>
<line x1="232.5" y1="278.75" x2="234.5" y2="278.75" stroke="#333" stroke-width="0.6"/>
<line x1="230.5" y1="277.7" x2="234.5" y2="277.7" stroke="#333" stroke-width="0.6"/>
<line x1="232.5" y1="270.78" x2="234.5" y2="270.78" stroke="#333" stroke-width="0.6"/>
<line x1="232.5" y1="266.73" x2="234.5" y2="266.73" stroke="#333" stroke-width="0.6"/>
<line x1="232.5" y1="263.85" x2="234.5" y2="263.85" stroke="#333" stroke-width="0.6"/>
<line x1="232.5" y1="261.62" x2="234.5" y2="261.62" stroke="#333" stroke-width="0.6"/>
<line x1="232.5" y1="259.8" x2="234.5" y2="259.8" stroke="#333" stroke-width="0.6"/>
<line x1="232.5" y1="258.26" x2="234.5" y2="258.26" stroke="#333" stroke-width="0.6"/>
<line x1="232.5" y1="256.93" x2="234.5" y2="256.93" stroke="#333" stroke-width="0.6"/>
<line x1="232.5" y1="255.75" x2="234.5" y2="255.75" stroke="#333" stroke-width="0.6"/>
<line x1="230.5" y1="254.7" x2="234.5" y2="254.7" stroke="#333" stroke-width="0.6"/>
<line x1="232.5" y1="247.78" x2="234.5" y2="247.78" stroke="#333" stroke-width="0.6"/>
<line x1="232.5" y1="243.73" x2="234.5" y2="243.73" stroke="#333" stroke-width="0.6"/>
<line x1="232.5" y1="240.85" x2="234.5" y2="240.85" stroke="#333" stroke-width="0.6"/>
<line x1="232.5" y1="238.62" x2="234.5" y2="238.62" stroke="#333" stroke-width="0.6"/>
<line x1="232.5" y1="236.8" x2="234.5" y2="236.8" stroke="#333" stroke-width="0.6"/>
<line x1="232.5" y1="235.26" x2="234.5" y2="235.26" stroke="#333" stroke-width="0.6"/>
<line x1="232.5" y1="233.93" x2="234.5" y2="233.93" stroke="#333" stroke-width="0.6"/>
<line x1="232.5" y1="232.75" x2="234.5" y2="232.75" stroke="#333" stroke-width="0.6"/>
<line x1="230.5" y1="231.7" x2="234.5" y2="231.7" stroke="#333" stroke-width="0.6"/>
<line x1="232.5" y1="224.78" x2="234.5" y2="224.78" stroke="#333" stroke-width="0.6"/>
<line x1="232.5" y1="220.73" x2="234.5" y2="220.73" stroke="#333" stroke-width="0.6"/>
<line x1="232.5" y1="217.85" x2="234.5" y2="217.85" stroke="#333" stroke-width="0.6"/>
<line x1="232.5" y1="215.62" x2="234.5" y2="215.62" stroke="#333" stroke-width="0.6"/>
<line x1="232.5" y1="213.8" x2="234.5" y2="213.8" stroke="#333" stroke-width="0.6"/>
<line x1="232.5" y1="212.26" x2="234.5" y2="212.26" stroke="#333" stroke-width="0.6"/>
<line x1="232.5" y1="210.93" x2="234.5" y2="210.93" stroke="#333" stroke-width="0.6"/>
<line x1="232.5" y1="209.75" x2="234.5" y2="209.75" stroke="#333" stroke-width="0.6"/>
<line x1="230.5" y1="208.7" x2="234.5" y2="208.7" stroke="#333" stroke-width="0.6"/>
<line x1="232.5" y1="201.78" x2="234.5" y2="201.78" stroke="#333" stroke-width="0.6"/>
<text transform="translate(229.90,211.70) rotate(-90)" font-size="5.6" font-weight="bold">10<tspan dy="-3.2" font-size="4.8">5</tspan></text>
<text transform="translate(229.90,234.70) rotate(-90)" font-size="5.6" font-weight="bold">10<tspan dy="-3.2" font-size="4.8">4</tspan></text>
<text transform="translate(229.90,257.70) rotate(-90)" font-size="5.6" font-weight="bold">10<tspan dy="-3.2" font-size="4.8">3</tspan></text>
<text transform="translate(229.90,280.70) rotate(-90)" font-size="5.6" font-weight="bold">10<tspan dy="-3.2" font-size="4.8">2</tspan></text>
<text transform="translate(220.50,245.00) rotate(-90)" font-size="6.0" font-weight="bold" text-anchor="middle">c-Kit APC-A</text>
<line x1="235.47" y1="291.0" x2="235.47" y2="293.0" stroke="#333" stroke-width="0.6"/>
<line x1="238.35" y1="291.0" x2="238.35" y2="293.0" stroke="#333" stroke-width="0.6"/>
<line x1="240.58" y1="291.0" x2="240.58" y2="293.0" stroke="#333" stroke-width="0.6"/>
<line x1="242.4" y1="291.0" x2="242.4" y2="293.0" stroke="#333" stroke-width="0.6"/>
<line x1="243.94" y1="291.0" x2="243.94" y2="293.0" stroke="#333" stroke-width="0.6"/>
<line x1="245.27" y1="291.0" x2="245.27" y2="293.0" stroke="#333" stroke-width="0.6"/>
<line x1="246.45" y1="291.0" x2="246.45" y2="293.0" stroke="#333" stroke-width="0.6"/>
<line x1="247.5" y1="291.0" x2="247.5" y2="295.0" stroke="#333" stroke-width="0.6"/>
<line x1="254.42" y1="291.0" x2="254.42" y2="293.0" stroke="#333" stroke-width="0.6"/>
<line x1="258.47" y1="291.0" x2="258.47" y2="293.0" stroke="#333" stroke-width="0.6"/>
<line x1="261.35" y1="291.0" x2="261.35" y2="293.0" stroke="#333" stroke-width="0.6"/>
<line x1="263.58" y1="291.0" x2="263.58" y2="293.0" stroke="#333" stroke-width="0.6"/>
<line x1="265.4" y1="291.0" x2="265.4" y2="293.0" stroke="#333" stroke-width="0.6"/>
<line x1="266.94" y1="291.0" x2="266.94" y2="293.0" stroke="#333" stroke-width="0.6"/>
<line x1="268.27" y1="291.0" x2="268.27" y2="293.0" stroke="#333" stroke-width="0.6"/>
<line x1="269.45" y1="291.0" x2="269.45" y2="293.0" stroke="#333" stroke-width="0.6"/>
<line x1="270.5" y1="291.0" x2="270.5" y2="295.0" stroke="#333" stroke-width="0.6"/>
<line x1="277.42" y1="291.0" x2="277.42" y2="293.0" stroke="#333" stroke-width="0.6"/>
<line x1="281.47" y1="291.0" x2="281.47" y2="293.0" stroke="#333" stroke-width="0.6"/>
<line x1="284.35" y1="291.0" x2="284.35" y2="293.0" stroke="#333" stroke-width="0.6"/>
<line x1="286.58" y1="291.0" x2="286.58" y2="293.0" stroke="#333" stroke-width="0.6"/>
<line x1="288.4" y1="291.0" x2="288.4" y2="293.0" stroke="#333" stroke-width="0.6"/>
<line x1="289.94" y1="291.0" x2="289.94" y2="293.0" stroke="#333" stroke-width="0.6"/>
<line x1="291.27" y1="291.0" x2="291.27" y2="293.0" stroke="#333" stroke-width="0.6"/>
<line x1="292.45" y1="291.0" x2="292.45" y2="293.0" stroke="#333" stroke-width="0.6"/>
<line x1="293.5" y1="291.0" x2="293.5" y2="295.0" stroke="#333" stroke-width="0.6"/>
<line x1="300.42" y1="291.0" x2="300.42" y2="293.0" stroke="#333" stroke-width="0.6"/>
<line x1="304.47" y1="291.0" x2="304.47" y2="293.0" stroke="#333" stroke-width="0.6"/>
<line x1="307.35" y1="291.0" x2="307.35" y2="293.0" stroke="#333" stroke-width="0.6"/>
<line x1="309.58" y1="291.0" x2="309.58" y2="293.0" stroke="#333" stroke-width="0.6"/>
<line x1="311.4" y1="291.0" x2="311.4" y2="293.0" stroke="#333" stroke-width="0.6"/>
<line x1="312.94" y1="291.0" x2="312.94" y2="293.0" stroke="#333" stroke-width="0.6"/>
<line x1="314.27" y1="291.0" x2="314.27" y2="293.0" stroke="#333" stroke-width="0.6"/>
<line x1="315.45" y1="291.0" x2="315.45" y2="293.0" stroke="#333" stroke-width="0.6"/>
<line x1="316.5" y1="291.0" x2="316.5" y2="295.0" stroke="#333" stroke-width="0.6"/>
<line x1="323.42" y1="291.0" x2="323.42" y2="293.0" stroke="#333" stroke-width="0.6"/>
<text x="243.90" y="303.00" font-size="5.8" font-weight="bold">10<tspan dy="-3.4" font-size="4.8">2</tspan></text>
<text x="266.90" y="303.00" font-size="5.8" font-weight="bold">10<tspan dy="-3.4" font-size="4.8">3</tspan></text>
<text x="289.90" y="303.00" font-size="5.8" font-weight="bold">10<tspan dy="-3.4" font-size="4.8">4</tspan></text>
<text x="312.90" y="303.00" font-size="5.8" font-weight="bold">10<tspan dy="-3.4" font-size="4.8">5</tspan></text>
<text x="281.20" y="310.60" font-size="6.0" font-weight="bold" text-anchor="middle">Sca-1 PE-A</text>
<rect x="271.70" y="232.40" width="36.10" height="20.40" fill="none" stroke="#6a6a6a" stroke-width="1.1"/>
<text x="304.70" y="240.60" font-size="6.1" fill="#555" text-anchor="end">KSL</text>
<text x="277.0" y="223.3" font-size="10.5" font-weight="bold" text-anchor="start" fill="#000" >1.6%</text>
<text x="406.8" y="190.9" font-size="10.45" font-weight="bold" text-anchor="middle" fill="#000" >Lin- CFSE- gate</text>
<path transform="translate(0 0.5)" d="M373 244h1m9 0h1m2 0h1m-22 1h1m3 0h1m7 0h1m9 0h1m11 0h1m2 1h1m15 2h1m-52 1h1m8 0h1m-6 2h1m36 0h1m-27 1h1m5 0h1m10 0h1m-16 1h1m1 0h1m0 0h1m2 0h1m4 0h1m-23 1h1m1 0h1m35 0h1m-43 1h1m16 0h1m7 0h1m5 0h1m-34 1h1m2 0h1m4 0h1m11 0h1m2 0h1m-25 1h1m2 0h1m6 0h1m0 0h1m0 0h1m8 0h1m0 0h1m1 0h1m8 0h1m7 0h1m-40 1h1m0 0h1m0 0h1m1 0h1m4 0h1m2 0h1m1 0h1m0 0h1m2 0h1m1 0h1m2 0h1m-17 1h1m2 0h1m0 0h1m7 0h1m0 0h1m7 0h1m8 0h1m-44 1h1m1 0h1m5 0h1m4 0h1m0 0h1m3 0h1m0 0h1m1 0h1m0 0h1m8 0h1m1 0h1m0 0h1m25 0h1m-58 1h1m1 0h1m4 0h1m1 0h1m1 0h1m1 0h1m1 0h1m1 0h1m2 0h1m2 0h1m13 0h1m12 0h1m-50 1h1m5 0h1m0 0h1m0 0h1m2 0h1m11 0h1m17 0h1m-45 1h1m2 0h1m1 0h1m2 0h1m1 0h1m1 0h1m0 0h1m1 0h1m0 0h1m2 0h1m0 0h1m1 0h1m2 0h1m1 0h1m1 0h1m1 0h1m2 0h1m-36 1h1m2 0h1m0 0h1m0 0h1m1 0h1m3 0h1m0 0h1m0 0h1m1 0h1m2 0h1m0 0h1m0 0h1m1 0h1m0 0h1m2 0h1m1 0h1m0 0h1m2 0h1m6 0h1m1 0h1m-42 1h1m0 0h1m0 0h1m1 0h1m1 0h1m1 0h1m1 0h1m0 0h1m1 0h1m0 0h1m0 0h1m0 0h1m0 0h1m2 0h1m1 0h1m0 0h1m0 0h1m1 0h1m0 0h1m1 0h1m4 0h1m4 0h1m5 0h1m0 0h1m-47 1h1m2 0h1m0 0h1m0 0h1m1 0h1m2 0h1m1 0h1m0 0h1m0 0h1m1 0h1m0 0h1m0 0h1m0 0h1m1 0h1m0 0h1m0 0h1m0 0h1m0 0h1m0 0h1m2 0h1m0 0h1m0 0h1m0 0h1m5 0h1m7 0h1m-46 1h1m9 0h1m0 0h1m1 0h1m0 0h1m0 0h1m0 0h1m0 0h1m0 0h1m0 0h1m0 0h1m0 0h1m0 0h1m2 0h1m0 0h1m3 0h1m2 0h1m3 0h1m2 0h1m-42 1h1m2 0h1m0 0h1m0 0h1m0 0h1m0 0h1m0 0h1m0 0h1m1 0h1m0 0h1m0 0h1m0 0h1m0 0h1m0 0h1m0 0h1m0 0h1m0 0h1m0 0h1m0 0h1m0 0h1m0 0h1m2 0h1m0 0h1m0 0h1m0 0h1m6 0h1m0 0h1m-35 1h1m0 0h1m0 0h1m0 0h1m0 0h1m0 0h1m0 0h1m0 0h1m0 0h1m0 0h1m0 0h1m0 0h1m0 0h1m0 0h1m0 0h1m2 0h1m0 0h1m0 0h1m4 0h1m2 0h1m0 0h1m0 0h1m1 0h1m0 0h1m0 0h1m2 0h1m-38 1h1m0 0h1m0 0h1m0 0h1m0 0h1m0 0h1m0 0h1m0 0h1m0 0h1m0 0h1m0 0h1m0 0h1m0 0h1m1 0h1m0 0h1m0 0h1m0 0h1m0 0h1m0 0h1m0 0h1m0 0h1m0 0h1m0 0h1m0 0h1m0 0h1m5 0h1m2 0h1m0 0h1m0 0h1m0 0h1m1 0h1m15 0h1m-58 1h1m2 0h1m0 0h1m0 0h1m0 0h1m0 0h1m0 0h1m0 0h1m0 0h1m0 0h1m0 0h1m0 0h1m1 0h1m0 0h1m0 0h1m1 0h1m0 0h1m0 0h1m0 0h1m0 0h1m0 0h1m0 0h1m0 0h1m1 0h1m0 0h1m0 0h1m0 0h1m2 0h1m1 0h1m0 0h1m2 0h1m2 0h1m4 0h1m-47 1h1m0 0h1m0 0h1m0 0h1m0 0h1m0 0h1m0 0h1m0 0h1m0 0h1m0 0h1m0 0h1m1 0h1m0 0h1m0 0h1m0 0h1m0 0h1m0 0h1m0 0h1m0 0h1m0 0h1m0 0h1m0 0h1m0 0h1m0 0h1m0 0h1m0 0h1m0 0h1m0 0h1m0 0h1m0 0h1m0 0h1m2 0h1m1 0h1m1 0h1m1 0h1m14 0h1m1 0h1m-60 1h1m0 0h1m0 0h1m0 0h1m0 0h1m0 0h1m0 0h1m0 0h1m0 0h1m1 0h1m0 0h1m0 0h1m0 0h1m0 0h1m0 0h1m0 0h1m0 0h1m0 0h1m0 0h1m0 0h1m0 0h1m0 0h1m0 0h1m1 0h1m0 0h1m0 0h1m0 0h1m0 0h1m1 0h1m0 0h1m1 0h1m3 0h1m10 0h1m-50 1h1m0 0h1m0 0h1m0 0h1m0 0h1m1 0h1m0 0h1m0 0h1m0 0h1m0 0h1m0 0h1m0 0h1m1 0h1m0 0h1m0 0h1m0 0h1m0 0h1m0 0h1m0 0h1m0 0h1m0 0h1m0 0h1m0 0h1m0 0h1m0 0h1m0 0h1m0 0h1m0 0h1m0 0h1m1 0h1m0 0h1m5 0h1m4 0h1m0 0h1m-46 1h1m0 0h1m0 0h1m0 0h1m0 0h1m1 0h1m0 0h1m0 0h1m0 0h1m1 0h1m0 0h1m1 0h1m0 0h1m0 0h1m0 0h1m0 0h1m3 0h1m0 0h1m0 0h1m0 0h1m0 0h1m0 0h1m0 0h1m0 0h1m1 0h1m0 0h1m0 0h1m0 0h1m0 0h1m3 0h1m5 0h1m2 0h1m-49 1h1m0 0h1m0 0h1m0 0h1m0 0h1m1 0h1m0 0h1m0 0h1m0 0h1m0 0h1m0 0h1m0 0h1m0 0h1m3 0h1m0 0h1m0 0h1m0 0h1m0 0h1m0 0h1m0 0h1m0 0h1m0 0h1m0 0h1m0 0h1m0 0h1m0 0h1m1 0h1m0 0h1m2 0h1m1 0h1m0 0h1m-39 1h1m0 0h1m0 0h1m1 0h1m1 0h1m0 0h1m0 0h1m0 0h1m0 0h1m0 0h1m0 0h1m0 0h1m0 0h1m0 0h1m0 0h1m0 0h1m0 0h1m0 0h1m0 0h1m0 0h1m0 0h1m0 0h1m0 0h1m0 0h1m0 0h1m0 0h1m0 0h1m0 0h1m0 0h1m0 0h1m0 0h1m1 0h1m0 0h1m5 0h1m9 0h1m-52 1h1m0 0h1m0 0h1m0 0h1m0 0h1m0 0h1m0 0h1m0 0h1m1 0h1m0 0h1m0 0h1m0 0h1m0 0h1m0 0h1m0 0h1m0 0h1m0 0h1m0 0h1m0 0h1m0 0h1m0 0h1m0 0h1m1 0h1m0 0h1m0 0h1m0 0h1m0 0h1m0 0h1m2 0h1m1 0h1m0 0h1m3 0h1m0 0h1m0 0h1m-42 1h1m0 0h1m0 0h1m0 0h1m0 0h1m0 0h1m0 0h1m0 0h1m0 0h1m0 0h1m0 0h1m0 0h1m0 0h1m0 0h1m0 0h1m0 0h1m1 0h1m0 0h1m2 0h1m0 0h1m0 0h1m0 0h1m0 0h1m0 0h1m0 0h1m0 0h1m0 0h1m1 0h1m0 0h1m0 0h1m0 0h1m2 0h1m7 0h1m-45 1h1m0 0h1m0 0h1m1 0h1m0 0h1m0 0h1m0 0h1m0 0h1m0 0h1m0 0h1m0 0h1m0 0h1m0 0h1m1 0h1m0 0h1m0 0h1m0 0h1m0 0h1m0 0h1m0 0h1m0 0h1m0 0h1m0 0h1m0 0h1m0 0h1m0 0h1m0 0h1m0 0h1m0 0h1m1 0h1m1 0h1m5 0h1m1 0h1m11 0h1m-56 1h1m0 0h1m0 0h1m0 0h1m1 0h1m0 0h1m0 0h1m0 0h1m0 0h1m0 0h1m0 0h1m0 0h1m0 0h1m0 0h1m0 0h1m0 0h1m0 0h1m0 0h1m0 0h1m0 0h1m0 0h1m0 0h1m0 0h1m0 0h1m0 0h1m0 0h1m0 0h1m0 0h1m0 0h1m0 0h1m0 0h1m1 0h1m1 0h1m1 0h1m3 0h1m5 0h1m0 0h1m0 0h1m-50 1h1m0 0h1m2 0h1m0 0h1m0 0h1m0 0h1m0 0h1m0 0h1m0 0h1m0 0h1m0 0h1m0 0h1m0 0h1m0 0h1m0 0h1m1 0h1m0 0h1m0 0h1m0 0h1m0 0h1m0 0h1m0 0h1m0 0h1m0 0h1m0 0h1m0 0h1m0 0h1m0 0h1m6 0h1m1 0h1m0 0h1m1 0h1m0 0h1m-44 1h1m0 0h1m1 0h1m0 0h1m1 0h1m0 0h1m0 0h1m1 0h1m0 0h1m0 0h1m0 0h1m0 0h1m0 0h1m0 0h1m0 0h1m0 0h1m0 0h1m0 0h1m0 0h1m0 0h1m0 0h1m0 0h1m0 0h1m0 0h1m0 0h1m0 0h1m0 0h1m0 0h1m0 0h1m2 0h1m1 0h1m1 0h1m2 0h1m4 0h1m5 0h1m-53 1h1m0 0h1m0 0h1m0 0h1m0 0h1m0 0h1m0 0h1m0 0h1m0 0h1m1 0h1m0 0h1m0 0h1m0 0h1m0 0h1m0 0h1m0 0h1m1 0h1m0 0h1m0 0h1m0 0h1m0 0h1m0 0h1m0 0h1m0 0h1m0 0h1m0 0h1m0 0h1m0 0h1m1 0h1m1 0h1m4 0h1m0 0h1m7 0h1m7 0h1m-56 1h1m0 0h1m0 0h1m0 0h1m0 0h1m0 0h1m0 0h1m0 0h1m0 0h1m0 0h1m0 0h1m0 0h1m0 0h1m0 0h1m0 0h1m0 0h1m0 0h1m0 0h1m0 0h1m0 0h1m0 0h1m0 0h1m1 0h1m0 0h1m1 0h1m0 0h1m0 0h1m0 0h1m3 0h1m8 0h1m1 0h1m-45 1h1m0 0h1m0 0h1m1 0h1m0 0h1m0 0h1m0 0h1m0 0h1m1 0h1m0 0h1m0 0h1m0 0h1m0 0h1m0 0h1m0 0h1m0 0h1m0 0h1m0 0h1m0 0h1m1 0h1m0 0h1m0 0h1m0 0h1m0 0h1m0 0h1m0 0h1m1 0h1m0 0h1m2 0h1m1 0h1m0 0h1m2 0h1m0 0h1m16 0h1m-58 1h1m0 0h1m0 0h1m0 0h1m0 0h1m0 0h1m0 0h1m1 0h1m0 0h1m0 0h1m0 0h1m2 0h1m0 0h1m0 0h1m0 0h1m0 0h1m0 0h1m1 0h1m0 0h1m0 0h1m0 0h1m0 0h1m0 0h1m0 0h1m0 0h1m0 0h1m0 0h1m0 0h1m1 0h1m0 0h1m0 0h1m5 0h1m1 0h1m-44 1h1m0 0h1m0 0h1m0 0h1m0 0h1m0 0h1m0 0h1m0 0h1m0 0h1m0 0h1m0 0h1m0 0h1m0 0h1m0 0h1m0 0h1m0 0h1m0 0h1m0 0h1m0 0h1m0 0h1m0 0h1m0 0h1m0 0h1m0 0h1m0 0h1m0 0h1m0 0h1m0 0h1m0 0h1m0 0h1m0 0h1m1 0h1m0 0h1m1 0h1m1 0h1m6 0h1m4 0h1m-51 1h1m0 0h1m0 0h1m0 0h1m1 0h1m0 0h1m0 0h1m0 0h1m0 0h1m0 0h1m0 0h1m0 0h1m0 0h1m0 0h1m0 0h1m0 0h1m0 0h1m0 0h1m0 0h1m0 0h1m0 0h1m0 0h1m0 0h1m0 0h1m0 0h1m0 0h1m0 0h1m1 0h1m1 0h1m0 0h1m0 0h1m0 0h1m8 0h1m0 0h1m-45 1h1m2 0h1m0 0h1m1 0h1m0 0h1m0 0h1m0 0h1m0 0h1m0 0h1m0 0h1m0 0h1m0 0h1m0 0h1m0 0h1m0 0h1m0 0h1m0 0h1m1 0h1m0 0h1m0 0h1m0 0h1m1 0h1m0 0h1m0 0h1m0 0h1m0 0h1m2 0h1m1 0h1" stroke="#6c6c6c" stroke-width="1" fill="none" filter="url(#bl)"/>
<path transform="translate(0 0.5)" d="M387 254h1m39 6h1m-7 1h1m21 0h1m-68 1h1m22 0h1m13 0h1m0 0h1m37 0h1m-60 1h1m11 0h1m-8 1h1m7 0h1m0 0h1m3 0h1m1 0h1m-1 1h1m2 0h1m-28 1h1m22 0h1m5 0h1m24 0h1m-24 1h1m3 0h1m11 0h1m-51 1h1m10 0h1m3 0h1m1 0h1m3 0h1m9 0h1m1 0h1m-18 1h1m9 0h1m3 0h1m1 0h1m4 0h1m7 0h1m7 0h1m3 0h1m-53 1h1m0 0h1m0 0h1m3 0h1m4 0h1m1 0h1m8 0h1m8 0h1m4 0h1m9 0h1m8 0h1m-46 1h1m1 0h1m0 0h1m1 0h1m2 0h1m2 0h1m0 0h1m2 0h1m0 0h1m3 0h1m3 0h1m3 0h1m2 0h1m3 0h1m2 0h1m-43 1h1m3 0h1m4 0h1m0 0h1m2 0h1m0 0h1m0 0h1m0 0h1m0 0h1m1 0h1m0 0h1m0 0h1m11 0h1m2 0h1m1 0h1m12 0h1m-57 1h1m2 0h1m6 0h1m1 0h1m0 0h1m1 0h1m1 0h1m0 0h1m1 0h1m0 0h1m1 0h1m0 0h1m2 0h1m1 0h1m2 0h1m0 0h1m12 0h1m7 0h1m-51 1h1m2 0h1m3 0h1m1 0h1m2 0h1m1 0h1m0 0h1m0 0h1m0 0h1m2 0h1m0 0h1m3 0h1m2 0h1m0 0h1m3 0h1m5 0h1m7 0h1m-77 1h1m4 0h1m10 0h1m14 0h1m1 0h1m1 0h1m0 0h1m0 0h1m0 0h1m2 0h1m3 0h1m0 0h1m1 0h1m3 0h1m0 0h1m2 0h1m0 0h1m1 0h1m0 0h1m3 0h1m2 0h1m2 0h1m1 0h1m-45 1h1m0 0h1m4 0h1m0 0h1m0 0h1m0 0h1m2 0h1m0 0h1m5 0h1m0 0h1m0 0h1m0 0h1m0 0h1m0 0h1m0 0h1m0 0h1m1 0h1m0 0h1m0 0h1m0 0h1m0 0h1m2 0h1m0 0h1m3 0h1m6 0h1m0 0h1m0 0h1m1 0h1m-49 1h1m1 0h1m3 0h1m0 0h1m0 0h1m2 0h1m4 0h1m0 0h1m1 0h1m0 0h1m2 0h1m0 0h1m3 0h1m0 0h1m3 0h1m2 0h1m-43 1h1m0 0h1m1 0h1m2 0h1m0 0h1m0 0h1m4 0h1m0 0h1m0 0h1m0 0h1m0 0h1m0 0h1m0 0h1m0 0h1m1 0h1m0 0h1m0 0h1m7 0h1m0 0h1m0 0h1m3 0h1m1 0h1m0 0h1m15 0h1m-72 1h1m2 0h1m15 0h1m0 0h1m1 0h1m0 0h1m0 0h1m2 0h1m0 0h1m2 0h1m0 0h1m0 0h1m0 0h1m0 0h1m0 0h1m0 0h1m0 0h1m0 0h1m0 0h1m0 0h1m1 0h1m0 0h1m0 0h1m0 0h1m0 0h1m0 0h1m7 0h1m1 0h1m6 0h1m4 0h1m-51 1h1m0 0h1m0 0h1m1 0h1m1 0h1m2 0h1m0 0h1m1 0h1m0 0h1m0 0h1m0 0h1m0 0h1m0 0h1m0 0h1m1 0h1m0 0h1m0 0h1m0 0h1m0 0h1m0 0h1m0 0h1m0 0h1m0 0h1m3 0h1m0 0h1m0 0h1m0 0h1m-40 1h1m1 0h1m1 0h1m1 0h1m1 0h1m1 0h1m0 0h1m0 0h1m0 0h1m0 0h1m3 0h1m0 0h1m0 0h1m0 0h1m0 0h1m0 0h1m0 0h1m0 0h1m0 0h1m1 0h1m0 0h1m0 0h1m1 0h1m1 0h1m12 0h1m0 0h1m-78 1h1m27 0h1m0 0h1m0 0h1m0 0h1m1 0h1m4 0h1m2 0h1m0 0h1m0 0h1m1 0h1m0 0h1m1 0h1m0 0h1m0 0h1m1 0h1m0 0h1m0 0h1m0 0h1m0 0h1m0 0h1m0 0h1m0 0h1m0 0h1m0 0h1m0 0h1m0 0h1m0 0h1m0 0h1m0 0h1m13 0h1m3 0h1m1 0h1m-81 1h1m22 0h1m0 0h1m1 0h1m3 0h1m0 0h1m1 0h1m0 0h1m0 0h1m0 0h1m1 0h1m0 0h1m0 0h1m0 0h1m0 0h1m1 0h1m0 0h1m0 0h1m1 0h1m0 0h1m0 0h1m0 0h1m0 0h1m1 0h1m0 0h1m0 0h1m0 0h1m2 0h1m2 0h1m1 0h1m-58 1h1m12 0h1m1 0h1m1 0h1m0 0h1m0 0h1m0 0h1m2 0h1m0 0h1m0 0h1m0 0h1m0 0h1m0 0h1m3 0h1m0 0h1m0 0h1m0 0h1m0 0h1m0 0h1m1 0h1m0 0h1m0 0h1m0 0h1m0 0h1m0 0h1m1 0h1m0 0h1m2 0h1m1 0h1m0 0h1m5 0h1m7 0h1m0 0h1m-61 1h1m4 0h1m0 0h1m2 0h1m0 0h1m0 0h1m0 0h1m0 0h1m0 0h1m0 0h1m0 0h1m3 0h1m0 0h1m0 0h1m1 0h1m0 0h1m0 0h1m0 0h1m0 0h1m0 0h1m0 0h1m1 0h1m1 0h1m0 0h1m0 0h1m0 0h1m0 0h1m1 0h1m0 0h1m2 0h1m1 0h1m1 0h1m1 0h1m0 0h1m4 0h1m-73 1h1m19 0h1m2 0h1m0 0h1m1 0h1m2 0h1m0 0h1m2 0h1m0 0h1m0 0h1m0 0h1m0 0h1m0 0h1m0 0h1m0 0h1m1 0h1m2 0h1m0 0h1m0 0h1m0 0h1m1 0h1m1 0h1m0 0h1m2 0h1m0 0h1m1 0h1m0 0h1m0 0h1m7 0h1m6 0h1m-78 1h1m28 0h1m0 0h1m0 0h1m3 0h1m2 0h1m2 0h1m0 0h1m1 0h1m0 0h1m1 0h1m0 0h1m0 0h1m1 0h1m0 0h1m0 0h1m0 0h1m1 0h1m4 0h1m0 0h1m3 0h1m2 0h1m-78 1h1m34 0h1m1 0h1m1 0h1m0 0h1m1 0h1m0 0h1m0 0h1m1 0h1m1 0h1m2 0h1m2 0h1m1 0h1m0 0h1m0 0h1m2 0h1m2 0h1m3 0h1m8 0h1m-50 1h1m1 0h1m5 0h1m0 0h1m0 0h1m2 0h1m4 0h1m0 0h1m0 0h1m0 0h1m0 0h1m0 0h1m0 0h1m0 0h1m0 0h1m0 0h1m0 0h1m0 0h1m0 0h1m4 0h1m1 0h1m0 0h1m10 0h1m-73 1h1m28 0h1m3 0h1m0 0h1m1 0h1m1 0h1m0 0h1m0 0h1m0 0h1m4 0h1m0 0h1m0 0h1m1 0h1m1 0h1m1 0h1m0 0h1m0 0h1m0 0h1m0 0h1m5 0h1m1 0h1m7 0h1m4 0h1" stroke="#8e8e8e" stroke-width="1" fill="none" filter="url(#bl)"/>
<path transform="translate(0 0.5)" d="M382 256h1m20 0h1m-37 2h1m9 2h1m13 1h1m3 0h1m13 0h1m-4 1h1m2 0h1m1 0h1m-26 1h1m0 0h1m-2 1h1m8 0h1m-23 2h1m16 0h1m16 0h1m3 0h1m5 0h1m-48 1h1m26 0h1m1 0h1m6 0h1m5 0h1m-50 1h1m30 0h1m0 0h1m20 0h1m-30 1h1m2 0h1m3 1h1m41 2h1m-33 2h1m4 1h1m0 2h1m-26 1h1m53 4h1" stroke="#ababab" stroke-width="1" fill="none" filter="url(#bl)"/>
<rect x="361.5" y="198.5" width="92.60" height="92.50" fill="none" stroke="#505050" stroke-width="1.0"/>
<line x1="359.5" y1="289.73" x2="361.5" y2="289.73" stroke="#333" stroke-width="0.6"/>
<line x1="359.5" y1="286.85" x2="361.5" y2="286.85" stroke="#333" stroke-width="0.6"/>
<line x1="359.5" y1="284.62" x2="361.5" y2="284.62" stroke="#333" stroke-width="0.6"/>
<line x1="359.5" y1="282.8" x2="361.5" y2="282.8" stroke="#333" stroke-width="0.6"/>
<line x1="359.5" y1="281.26" x2="361.5" y2="281.26" stroke="#333" stroke-width="0.6"/>
<line x1="359.5" y1="279.93" x2="361.5" y2="279.93" stroke="#333" stroke-width="0.6"/>
<line x1="359.5" y1="278.75" x2="361.5" y2="278.75" stroke="#333" stroke-width="0.6"/>
<line x1="357.5" y1="277.7" x2="361.5" y2="277.7" stroke="#333" stroke-width="0.6"/>
<line x1="359.5" y1="270.78" x2="361.5" y2="270.78" stroke="#333" stroke-width="0.6"/>
<line x1="359.5" y1="266.73" x2="361.5" y2="266.73" stroke="#333" stroke-width="0.6"/>
<line x1="359.5" y1="263.85" x2="361.5" y2="263.85" stroke="#333" stroke-width="0.6"/>
<line x1="359.5" y1="261.62" x2="361.5" y2="261.62" stroke="#333" stroke-width="0.6"/>
<line x1="359.5" y1="259.8" x2="361.5" y2="259.8" stroke="#333" stroke-width="0.6"/>
<line x1="359.5" y1="258.26" x2="361.5" y2="258.26" stroke="#333" stroke-width="0.6"/>
<line x1="359.5" y1="256.93" x2="361.5" y2="256.93" stroke="#333" stroke-width="0.6"/>
<line x1="359.5" y1="255.75" x2="361.5" y2="255.75" stroke="#333" stroke-width="0.6"/>
<line x1="357.5" y1="254.7" x2="361.5" y2="254.7" stroke="#333" stroke-width="0.6"/>
<line x1="359.5" y1="247.78" x2="361.5" y2="247.78" stroke="#333" stroke-width="0.6"/>
<line x1="359.5" y1="243.73" x2="361.5" y2="243.73" stroke="#333" stroke-width="0.6"/>
<line x1="359.5" y1="240.85" x2="361.5" y2="240.85" stroke="#333" stroke-width="0.6"/>
<line x1="359.5" y1="238.62" x2="361.5" y2="238.62" stroke="#333" stroke-width="0.6"/>
<line x1="359.5" y1="236.8" x2="361.5" y2="236.8" stroke="#333" stroke-width="0.6"/>
<line x1="359.5" y1="235.26" x2="361.5" y2="235.26" stroke="#333" stroke-width="0.6"/>
<line x1="359.5" y1="233.93" x2="361.5" y2="233.93" stroke="#333" stroke-width="0.6"/>
<line x1="359.5" y1="232.75" x2="361.5" y2="232.75" stroke="#333" stroke-width="0.6"/>
<line x1="357.5" y1="231.7" x2="361.5" y2="231.7" stroke="#333" stroke-width="0.6"/>
<line x1="359.5" y1="224.78" x2="361.5" y2="224.78" stroke="#333" stroke-width="0.6"/>
<line x1="359.5" y1="220.73" x2="361.5" y2="220.73" stroke="#333" stroke-width="0.6"/>
<line x1="359.5" y1="217.85" x2="361.5" y2="217.85" stroke="#333" stroke-width="0.6"/>
<line x1="359.5" y1="215.62" x2="361.5" y2="215.62" stroke="#333" stroke-width="0.6"/>
<line x1="359.5" y1="213.8" x2="361.5" y2="213.8" stroke="#333" stroke-width="0.6"/>
<line x1="359.5" y1="212.26" x2="361.5" y2="212.26" stroke="#333" stroke-width="0.6"/>
<line x1="359.5" y1="210.93" x2="361.5" y2="210.93" stroke="#333" stroke-width="0.6"/>
<line x1="359.5" y1="209.75" x2="361.5" y2="209.75" stroke="#333" stroke-width="0.6"/>
<line x1="357.5" y1="208.7" x2="361.5" y2="208.7" stroke="#333" stroke-width="0.6"/>
<line x1="359.5" y1="201.78" x2="361.5" y2="201.78" stroke="#333" stroke-width="0.6"/>
<text transform="translate(356.90,211.70) rotate(-90)" font-size="5.6" font-weight="bold">10<tspan dy="-3.2" font-size="4.8">5</tspan></text>
<text transform="translate(356.90,234.70) rotate(-90)" font-size="5.6" font-weight="bold">10<tspan dy="-3.2" font-size="4.8">4</tspan></text>
<text transform="translate(356.90,257.70) rotate(-90)" font-size="5.6" font-weight="bold">10<tspan dy="-3.2" font-size="4.8">3</tspan></text>
<text transform="translate(356.90,280.70) rotate(-90)" font-size="5.6" font-weight="bold">10<tspan dy="-3.2" font-size="4.8">2</tspan></text>
<text transform="translate(347.50,245.00) rotate(-90)" font-size="6.0" font-weight="bold" text-anchor="middle">c-Kit APC-A</text>
<line x1="362.47" y1="291.0" x2="362.47" y2="293.0" stroke="#333" stroke-width="0.6"/>
<line x1="365.35" y1="291.0" x2="365.35" y2="293.0" stroke="#333" stroke-width="0.6"/>
<line x1="367.58" y1="291.0" x2="367.58" y2="293.0" stroke="#333" stroke-width="0.6"/>
<line x1="369.4" y1="291.0" x2="369.4" y2="293.0" stroke="#333" stroke-width="0.6"/>
<line x1="370.94" y1="291.0" x2="370.94" y2="293.0" stroke="#333" stroke-width="0.6"/>
<line x1="372.27" y1="291.0" x2="372.27" y2="293.0" stroke="#333" stroke-width="0.6"/>
<line x1="373.45" y1="291.0" x2="373.45" y2="293.0" stroke="#333" stroke-width="0.6"/>
<line x1="374.5" y1="291.0" x2="374.5" y2="295.0" stroke="#333" stroke-width="0.6"/>
<line x1="381.42" y1="291.0" x2="381.42" y2="293.0" stroke="#333" stroke-width="0.6"/>
<line x1="385.47" y1="291.0" x2="385.47" y2="293.0" stroke="#333" stroke-width="0.6"/>
<line x1="388.35" y1="291.0" x2="388.35" y2="293.0" stroke="#333" stroke-width="0.6"/>
<line x1="390.58" y1="291.0" x2="390.58" y2="293.0" stroke="#333" stroke-width="0.6"/>
<line x1="392.4" y1="291.0" x2="392.4" y2="293.0" stroke="#333" stroke-width="0.6"/>
<line x1="393.94" y1="291.0" x2="393.94" y2="293.0" stroke="#333" stroke-width="0.6"/>
<line x1="395.27" y1="291.0" x2="395.27" y2="293.0" stroke="#333" stroke-width="0.6"/>
<line x1="396.45" y1="291.0" x2="396.45" y2="293.0" stroke="#333" stroke-width="0.6"/>
<line x1="397.5" y1="291.0" x2="397.5" y2="295.0" stroke="#333" stroke-width="0.6"/>
<line x1="404.42" y1="291.0" x2="404.42" y2="293.0" stroke="#333" stroke-width="0.6"/>
<line x1="408.47" y1="291.0" x2="408.47" y2="293.0" stroke="#333" stroke-width="0.6"/>
<line x1="411.35" y1="291.0" x2="411.35" y2="293.0" stroke="#333" stroke-width="0.6"/>
<line x1="413.58" y1="291.0" x2="413.58" y2="293.0" stroke="#333" stroke-width="0.6"/>
<line x1="415.4" y1="291.0" x2="415.4" y2="293.0" stroke="#333" stroke-width="0.6"/>
<line x1="416.94" y1="291.0" x2="416.94" y2="293.0" stroke="#333" stroke-width="0.6"/>
<line x1="418.27" y1="291.0" x2="418.27" y2="293.0" stroke="#333" stroke-width="0.6"/>
<line x1="419.45" y1="291.0" x2="419.45" y2="293.0" stroke="#333" stroke-width="0.6"/>
<line x1="420.5" y1="291.0" x2="420.5" y2="295.0" stroke="#333" stroke-width="0.6"/>
<line x1="427.42" y1="291.0" x2="427.42" y2="293.0" stroke="#333" stroke-width="0.6"/>
<line x1="431.47" y1="291.0" x2="431.47" y2="293.0" stroke="#333" stroke-width="0.6"/>
<line x1="434.35" y1="291.0" x2="434.35" y2="293.0" stroke="#333" stroke-width="0.6"/>
<line x1="436.58" y1="291.0" x2="436.58" y2="293.0" stroke="#333" stroke-width="0.6"/>
<line x1="438.4" y1="291.0" x2="438.4" y2="293.0" stroke="#333" stroke-width="0.6"/>
<line x1="439.94" y1="291.0" x2="439.94" y2="293.0" stroke="#333" stroke-width="0.6"/>
<line x1="441.27" y1="291.0" x2="441.27" y2="293.0" stroke="#333" stroke-width="0.6"/>
<line x1="442.45" y1="291.0" x2="442.45" y2="293.0" stroke="#333" stroke-width="0.6"/>
<line x1="443.5" y1="291.0" x2="443.5" y2="295.0" stroke="#333" stroke-width="0.6"/>
<line x1="450.42" y1="291.0" x2="450.42" y2="293.0" stroke="#333" stroke-width="0.6"/>
<text x="370.90" y="303.00" font-size="5.8" font-weight="bold">10<tspan dy="-3.4" font-size="4.8">2</tspan></text>
<text x="393.90" y="303.00" font-size="5.8" font-weight="bold">10<tspan dy="-3.4" font-size="4.8">3</tspan></text>
<text x="416.90" y="303.00" font-size="5.8" font-weight="bold">10<tspan dy="-3.4" font-size="4.8">4</tspan></text>
<text x="439.90" y="303.00" font-size="5.8" font-weight="bold">10<tspan dy="-3.4" font-size="4.8">5</tspan></text>
<text x="406.80" y="310.60" font-size="6.0" font-weight="bold" text-anchor="middle">Sca-1 PE-A</text>
<rect x="398.50" y="232.70" width="36.00" height="19.80" fill="none" stroke="#6a6a6a" stroke-width="1.1"/>
<text x="433.30" y="240.50" font-size="6.1" fill="#555" text-anchor="end">KSL</text>
<text x="403.8" y="223.3" font-size="10.5" font-weight="bold" text-anchor="start" fill="#000" >0.1%</text>
<text x="154.8" y="333.2" font-size="10.45" font-weight="bold" text-anchor="middle" fill="#000" >Lin- gate</text>
<path transform="translate(0 0.5)" d="M124 342h1m1 0h1m0 0h1m0 0h1m0 0h1m9 0h1m-18 1h1m1 0h1m1 0h1m0 0h1m0 0h1m1 0h1m0 0h1m1 0h1m1 0h1m1 0h1m4 0h1m-23 1h1m1 0h1m1 0h1m0 0h1m0 0h1m0 0h1m0 0h1m0 0h1m1 0h1m0 0h1m0 0h1m0 0h1m1 0h1m3 0h1m1 0h1m0 0h1m-25 1h1m0 0h1m0 0h1m2 0h1m0 0h1m0 0h1m1 0h1m0 0h1m0 0h1m0 0h1m0 0h1m0 0h1m0 0h1m0 0h1m0 0h1m5 0h1m1 0h1m-23 1h1m1 0h1m0 0h1m0 0h1m0 0h1m0 0h1m0 0h1m0 0h1m0 0h1m0 0h1m2 0h1m3 0h1m9 0h1m-31 1h1m1 0h1m2 0h1m0 0h1m0 0h1m0 0h1m0 0h1m0 0h1m0 0h1m0 0h1m5 0h1m-19 1h1m0 0h1m0 0h1m0 0h1m0 0h1m0 0h1m0 0h1m0 0h1m0 0h1m1 0h1m0 0h1m0 0h1m0 0h1m0 0h1m0 0h1m5 0h1m1 0h1m-24 1h1m2 0h1m0 0h1m0 0h1m0 0h1m0 0h1m0 0h1m0 0h1m1 0h1m0 0h1m0 0h1m3 0h1m1 0h1m1 0h1m2 0h1m-23 1h1m0 0h1m0 0h1m0 0h1m1 0h1m0 0h1m0 0h1m0 0h1m0 0h1m0 0h1m0 0h1m0 0h1m2 0h1m0 0h1m0 0h1m0 0h1m2 0h1m1 0h1m0 0h1m-28 1h1m0 0h1m4 0h1m0 0h1m0 0h1m0 0h1m0 0h1m0 0h1m0 0h1m2 0h1m5 0h1m-20 1h1m0 0h1m2 0h1m0 0h1m0 0h1m0 0h1m0 0h1m0 0h1m0 0h1m1 0h1m0 0h1m0 0h1m2 0h1m5 0h1m-23 1h1m2 0h1m0 0h1m1 0h1m0 0h1m1 0h1m0 0h1m0 0h1m5 0h1m5 0h1m2 0h1m-30 1h1m5 0h1m1 0h1m0 0h1m1 0h1m5 0h1m7 0h1m-24 1h1m1 0h1m0 0h1m3 0h1m0 0h1m-10 1h1m10 0h1m0 0h1m1 0h1m15 0h1m-26 1h1m1 0h1m0 0h1m13 0h1m-20 1h1m1 0h1m-5 1h1m3 0h1m-6 1h1m0 0h1m-1 1h1m0 0h1m3 0h1m-6 1h1m0 1h1m0 0h1m-2 1h1m0 0h1m2 0h1m-7 1h1m1 0h1m1 0h1m2 0h1m-8 1h1m0 0h1m1 0h1m0 0h1m0 0h1m-3 1h1m2 0h1m-7 1h1m1 0h1m0 0h1m-4 1h1m0 0h1m0 0h1m0 0h1m-5 1h1m2 0h1m1 0h1m0 0h1m0 0h1m-6 1h1m0 0h1m0 0h1m0 0h1m1 0h1m-7 1h1m1 0h1m0 0h1m2 0h1m-6 1h1m1 0h1m0 0h1m0 0h1m-5 1h1m0 0h1m0 0h1m1 0h1m-4 1h1m0 0h1m0 0h1m0 0h1m-3 1h1m2 1h1m-7 1h1m5 0h1m-5 1h1m0 1h1" stroke="#252525" stroke-width="1" fill="none" filter="url(#bl)"/>
<path transform="translate(0 0.5)" d="M132 342h1m1 0h1m-16 1h1m5 0h1m6 0h1m-11 2h1m23 1h1m-27 1h1m26 0h1m-30 1h1m17 0h1m2 0h1m12 0h1m-24 1h1m16 1h1m-27 1h1m10 0h1m2 0h1m0 0h1m0 0h1m0 0h1m3 1h1m13 0h1m-38 1h1m23 0h1m-21 1h1m5 0h1m2 0h1m15 0h1m-23 1h1m3 0h1m-10 1h1m0 0h1m0 0h1m9 0h1m1 0h1m13 0h1m4 0h1m-35 1h1m10 0h1m1 0h1m4 0h1m0 0h1m7 0h1m-29 1h1m0 0h1m5 0h1m0 0h1m8 0h1m1 0h1m6 0h1m-26 1h1m1 0h1m0 0h1m0 0h1m2 0h1m1 0h1m5 0h1m-12 1h1m2 0h1m0 0h1m0 0h1m19 0h1m1 0h1m-33 1h1m4 0h1m0 0h1m3 0h1m1 0h1m3 0h1m1 0h1m-16 1h1m4 0h1m0 0h1m4 0h1m4 0h1m-20 1h1m1 0h1m3 0h1m0 0h1m1 0h1m6 0h1m-15 1h1m2 0h1m2 0h1m-7 1h1m6 0h1m0 0h1m0 0h1m5 0h1m-15 1h1m10 0h1m5 0h1m-18 1h1m1 0h1m0 0h1m3 0h1m0 0h1m10 0h1m0 0h1m-18 1h1m3 0h1m1 1h1m6 0h1m5 0h1m-18 1h1m6 0h1m-5 1h1m1 0h1m13 0h1m-26 1h1m10 1h1m-14 1h1m0 0h1m6 1h1m3 0h1m14 0h1m-23 1h1m0 0h1m1 0h1m0 0h1m-8 1h1m5 0h1m3 0h1m-1 1h1m1 0h1m-8 1h1m2 0h1" stroke="#7a7a7a" stroke-width="1" fill="none" filter="url(#bl)"/>
<path transform="translate(0 0.5)" d="M119 381h1m4 0h1m2 0h1m8 1h1m-9 2h1m-6 1h1m-2 1h1m0 0h1m13 1h1m4 0h1m-16 1h1m-7 1h1m0 0h1m8 1h1m8 0h1m-19 1h1m13 0h1m-11 2h1m-8 1h1m2 1h1m-1 1h1m2 0h1m5 0h1m-1 1h1m2 1h1m7 1h1m-22 1h1m13 0h1m-10 1h1m1 0h1m-4 1h1m8 1h1m-15 2h1m8 0h1" stroke="#999" stroke-width="1" fill="none" filter="url(#bl)"/>
<path transform="translate(0 0.5)" d="M125 407h1m3 0h1m6 0h1m45 0h1m-59 1h1m2 0h1m0 0h1m3 0h1m1 0h1m0 0h1m4 0h1m1 0h1m2 0h1m-27 1h1m0 0h1m2 0h1m0 0h1m0 0h1m5 0h1m2 0h1m0 0h1m3 0h1m0 0h1m3 0h1m7 0h1m-21 1h1m0 0h1m6 0h1m15 0h1m-39 1h1m0 0h1m1 0h1m1 0h1m2 0h1m0 0h1m3 0h1m2 0h1m0 0h1m4 0h1m0 0h1m8 0h1m-28 1h1m2 0h1m1 0h1m0 0h1m0 0h1m3 0h1m1 0h1m0 0h1m2 0h1m1 0h1m0 0h1m7 0h1m-34 1h1m4 0h1m1 0h1m0 0h1m1 0h1m1 0h1m4 0h1m1 0h1m2 0h1m5 0h1m6 0h1m3 0h1m-39 1h1m1 0h1m0 0h1m0 0h1m0 0h1m0 0h1m0 0h1m2 0h1m1 0h1m1 0h1m4 0h1m2 0h1m4 0h1m7 0h1m4 0h1m-42 1h1m0 0h1m0 0h1m0 0h1m1 0h1m0 0h1m0 0h1m0 0h1m3 0h1m0 0h1m0 0h1m0 0h1m0 0h1m2 0h1m0 0h1m0 0h1m0 0h1m2 0h1m4 0h1m3 0h1m0 0h1m11 0h1m-48 1h1m0 0h1m0 0h1m0 0h1m0 0h1m0 0h1m0 0h1m0 0h1m1 0h1m0 0h1m0 0h1m0 0h1m0 0h1m0 0h1m1 0h1m0 0h1m0 0h1m0 0h1m0 0h1m4 0h1m0 0h1m1 0h1m0 0h1m1 0h1m1 0h1m14 0h1m-47 1h1m0 0h1m1 0h1m0 0h1m0 0h1m0 0h1m0 0h1m0 0h1m1 0h1m0 0h1m3 0h1m0 0h1m0 0h1m0 0h1m0 0h1m5 0h1m4 0h1m0 0h1m3 0h1m3 0h1m1 0h1m2 0h1m8 0h1m2 0h1m6 0h1m3 0h1m-70 1h1m0 0h1m0 0h1m0 0h1m0 0h1m1 0h1m1 0h1m1 0h1m0 0h1m0 0h1m1 0h1m0 0h1m0 0h1m0 0h1m0 0h1m0 0h1m1 0h1m0 0h1m0 0h1m1 0h1m1 0h1m1 0h1m2 0h1m1 0h1m0 0h1m0 0h1m2 0h1m2 0h1m2 0h1m2 0h1m0 0h1m0 0h1m2 0h1m7 0h1m-62 1h1m1 0h1m0 0h1m0 0h1m0 0h1m0 0h1m0 0h1m0 0h1m0 0h1m1 0h1m1 0h1m0 0h1m0 0h1m1 0h1m0 0h1m0 0h1m0 0h1m1 0h1m1 0h1m0 0h1m1 0h1m0 0h1m1 0h1m3 0h1m1 0h1m3 0h1m3 0h1m7 0h1m8 0h1m0 0h1m-63 1h1m0 0h1m1 0h1m0 0h1m0 0h1m0 0h1m0 0h1m0 0h1m0 0h1m0 0h1m0 0h1m0 0h1m0 0h1m0 0h1m0 0h1m0 0h1m0 0h1m0 0h1m0 0h1m0 0h1m0 0h1m0 0h1m0 0h1m0 0h1m3 0h1m0 0h1m1 0h1m1 0h1m1 0h1m7 0h1m0 0h1m1 0h1m-47 1h1m0 0h1m0 0h1m0 0h1m0 0h1m0 0h1m0 0h1m0 0h1m0 0h1m0 0h1m0 0h1m1 0h1m1 0h1m3 0h1m1 0h1m0 0h1m0 0h1m0 0h1m0 0h1m0 0h1m1 0h1m2 0h1m0 0h1m0 0h1m4 0h1m6 0h1m3 0h1m0 0h1m0 0h1m7 0h1m5 0h1m-65 1h1m0 0h1m0 0h1m0 0h1m0 0h1m0 0h1m0 0h1m0 0h1m0 0h1m0 0h1m1 0h1m0 0h1m1 0h1m0 0h1m0 0h1m0 0h1m0 0h1m1 0h1m1 0h1m0 0h1m0 0h1m1 0h1m0 0h1m0 0h1m0 0h1m0 0h1m2 0h1m0 0h1m1 0h1m1 0h1m0 0h1m6 0h1m0 0h1m0 0h1m1 0h1m2 0h1m6 0h1m2 0h1m7 0h1m-72 1h1m0 0h1m0 0h1m0 0h1m0 0h1m0 0h1m0 0h1m1 0h1m0 0h1m0 0h1m0 0h1m0 0h1m0 0h1m0 0h1m0 0h1m0 0h1m0 0h1m0 0h1m1 0h1m0 0h1m0 0h1m0 0h1m0 0h1m0 0h1m0 0h1m0 0h1m0 0h1m0 0h1m1 0h1m2 0h1m0 0h1m0 0h1m0 0h1m1 0h1m0 0h1m2 0h1m2 0h1m1 0h1m2 0h1m5 0h1m0 0h1m-57 1h1m0 0h1m2 0h1m0 0h1m0 0h1m0 0h1m0 0h1m0 0h1m0 0h1m0 0h1m0 0h1m0 0h1m1 0h1m0 0h1m0 0h1m1 0h1m0 0h1m0 0h1m0 0h1m0 0h1m0 0h1m1 0h1m0 0h1m0 0h1m1 0h1m1 0h1m7 0h1m0 0h1m0 0h1m0 0h1m2 0h1m0 0h1m1 0h1m0 0h1m3 0h1m-57 1h1m0 0h1m1 0h1m0 0h1m0 0h1m0 0h1m0 0h1m0 0h1m0 0h1m1 0h1m0 0h1m0 0h1m0 0h1m0 0h1m0 0h1m0 0h1m0 0h1m0 0h1m0 0h1m1 0h1m0 0h1m1 0h1m0 0h1m0 0h1m0 0h1m0 0h1m2 0h1m2 0h1m1 0h1m3 0h1m3 0h1m0 0h1m1 0h1m10 0h1m2 0h1m7 0h1m-71 1h1m0 0h1m0 0h1m0 0h1m0 0h1m0 0h1m0 0h1m0 0h1m0 0h1m0 0h1m0 0h1m0 0h1m0 0h1m0 0h1m0 0h1m0 0h1m0 0h1m0 0h1m0 0h1m0 0h1m0 0h1m0 0h1m1 0h1m0 0h1m1 0h1m0 0h1m0 0h1m0 0h1m1 0h1m1 0h1m2 0h1m6 0h1m0 0h1m3 0h1m0 0h1m-49 1h1m0 0h1m0 0h1m0 0h1m0 0h1m1 0h1m0 0h1m0 0h1m0 0h1m0 0h1m0 0h1m0 0h1m0 0h1m0 0h1m0 0h1m0 0h1m0 0h1m0 0h1m0 0h1m0 0h1m0 0h1m0 0h1m0 0h1m0 0h1m0 0h1m0 0h1m0 0h1m4 0h1m0 0h1m0 0h1m0 0h1m0 0h1m0 0h1m2 0h1m1 0h1m3 0h1m12 0h1m0 0h1m-62 1h1m0 0h1m0 0h1m0 0h1m0 0h1m0 0h1m0 0h1m0 0h1m0 0h1m0 0h1m0 0h1m0 0h1m0 0h1m0 0h1m1 0h1m1 0h1m0 0h1m0 0h1m0 0h1m0 0h1m0 0h1m0 0h1m0 0h1m0 0h1m0 0h1m0 0h1m0 0h1m0 0h1m0 0h1m1 0h1m1 0h1m0 0h1m0 0h1m2 0h1m0 0h1m0 0h1m1 0h1m1 0h1m0 0h1m4 0h1m0 0h1m1 0h1m2 0h1m7 0h1m0 0h1m-67 1h1m0 0h1m1 0h1m0 0h1m0 0h1m1 0h1m0 0h1m1 0h1m0 0h1m0 0h1m0 0h1m1 0h1m0 0h1m0 0h1m0 0h1m0 0h1m0 0h1m0 0h1m0 0h1m0 0h1m0 0h1m0 0h1m0 0h1m1 0h1m0 0h1m0 0h1m1 0h1m0 0h1m0 0h1m1 0h1m2 0h1m1 0h1m1 0h1m1 0h1m5 0h1m1 0h1m3 0h1m1 0h1m3 0h1m3 0h1m-68 1h1m0 0h1m0 0h1m0 0h1m0 0h1m0 0h1m0 0h1m0 0h1m0 0h1m0 0h1m0 0h1m0 0h1m0 0h1m0 0h1m0 0h1m0 0h1m1 0h1m0 0h1m0 0h1m0 0h1m0 0h1m0 0h1m1 0h1m0 0h1m0 0h1m0 0h1m0 0h1m0 0h1m0 0h1m0 0h1m0 0h1m3 0h1m2 0h1m0 0h1m1 0h1m0 0h1m2 0h1m6 0h1m12 0h1m-67 1h1m0 0h1m0 0h1m0 0h1m0 0h1m0 0h1m0 0h1m0 0h1m0 0h1m0 0h1m0 0h1m0 0h1m0 0h1m0 0h1m0 0h1m0 0h1m0 0h1m0 0h1m0 0h1m0 0h1m0 0h1m0 0h1m0 0h1m0 0h1m0 0h1m0 0h1m0 0h1m0 0h1m0 0h1m0 0h1m0 0h1m0 0h1m2 0h1m1 0h1m0 0h1m0 0h1m2 0h1m0 0h1m0 0h1m2 0h1m5 0h1m5 0h1m1 0h1m3 0h1m-65 1h1m0 0h1m0 0h1m0 0h1m0 0h1m0 0h1m0 0h1m0 0h1m0 0h1m1 0h1m0 0h1m0 0h1m0 0h1m0 0h1m0 0h1m0 0h1m0 0h1m1 0h1m0 0h1m0 0h1m0 0h1m0 0h1m0 0h1m1 0h1m0 0h1m2 0h1m0 0h1m0 0h1m2 0h1m1 0h1m0 0h1m1 0h1m1 0h1m1 0h1m1 0h1m1 0h1m4 0h1m4 0h1m5 0h1" stroke="#6a6a6a" stroke-width="1" fill="none" filter="url(#bl)"/>
<path transform="translate(0 0.5)" d="M152 407h1m20 0h1m6 0h1m5 0h1m-48 1h1m1 1h1m-11 1h1m4 0h1m6 0h1m-13 2h1m15 0h1m0 0h1m0 0h1m-17 1h1m11 0h1m4 0h1m30 0h1m-47 1h1m7 0h1m4 0h1m6 0h1m1 0h1m0 0h1m21 0h1m7 0h1m-67 1h1m5 0h1m26 0h1m0 0h1m2 0h1m1 0h1m4 0h1m16 0h1m1 0h1m-60 1h1m18 0h1m10 0h1m4 0h1m0 0h1m10 0h1m1 0h1m2 0h1m6 0h1m-46 1h1m24 0h1m5 0h1m5 0h1m-55 1h1m14 0h1m17 0h1m2 0h1m12 0h1m8 0h1m-54 1h1m15 0h1m2 0h1m1 0h1m5 0h1m0 0h1m2 0h1m0 0h1m0 0h1m7 0h1m13 0h1m0 0h1m3 0h1m-45 1h1m0 0h1m2 0h1m5 0h1m12 0h1m2 0h1m0 0h1m18 0h1m-58 1h1m10 0h1m1 0h1m5 0h1m0 0h1m0 0h1m1 0h1m0 0h1m0 0h1m1 0h1m11 0h1m0 0h1m11 0h1m4 0h1m-52 1h1m3 0h1m5 0h1m3 0h1m9 0h1m5 0h1m5 0h1m3 0h1m3 0h1m-59 1h1m11 0h1m10 0h1m10 0h1m3 0h1m3 0h1m0 0h1m10 0h1m6 0h1m-53 1h1m10 0h1m7 0h1m0 0h1m4 0h1m4 0h1m13 0h1m6 0h1m3 0h1m-70 1h1m21 0h1m5 0h1m2 0h1m0 0h1m3 0h1m0 0h1m2 0h1m0 0h1m0 0h1m2 0h1m1 0h1m0 0h1m12 0h1m4 0h1m-44 1h1m8 0h1m6 0h1m0 0h1m2 0h1m0 0h1m3 0h1m3 0h1m0 0h1m0 0h1m1 0h1m5 0h1m-36 1h1m0 0h1m1 0h1m6 0h1m2 0h1m1 0h1m-31 1h1m1 0h1m25 0h1m4 0h1m1 0h1m-23 1h1m10 0h1m1 0h1m5 0h1m1 0h1m1 0h1m3 0h1m1 0h1m5 0h1m-40 1h1m9 0h1m0 0h1m3 0h1m10 0h1m8 0h1m-24 1h1m3 0h1m9 0h1m6 0h1m4 0h1m1 0h1m-55 1h1m8 0h1m9 0h1m0 0h1m11 0h1m8 0h1m0 0h1" stroke="#9a9a9a" stroke-width="1" fill="none" filter="url(#bl)"/>
<rect x="110.6" y="340.8" width="92.60" height="92.20" fill="none" stroke="#505050" stroke-width="1.0"/>
<line x1="108.6" y1="432.03" x2="110.6" y2="432.03" stroke="#333" stroke-width="0.6"/>
<line x1="108.6" y1="429.15" x2="110.6" y2="429.15" stroke="#333" stroke-width="0.6"/>
<line x1="108.6" y1="426.92" x2="110.6" y2="426.92" stroke="#333" stroke-width="0.6"/>
<line x1="108.6" y1="425.1" x2="110.6" y2="425.1" stroke="#333" stroke-width="0.6"/>
<line x1="108.6" y1="423.56" x2="110.6" y2="423.56" stroke="#333" stroke-width="0.6"/>
<line x1="108.6" y1="422.23" x2="110.6" y2="422.23" stroke="#333" stroke-width="0.6"/>
<line x1="108.6" y1="421.05" x2="110.6" y2="421.05" stroke="#333" stroke-width="0.6"/>
<line x1="106.6" y1="420.0" x2="110.6" y2="420.0" stroke="#333" stroke-width="0.6"/>
<line x1="108.6" y1="413.08" x2="110.6" y2="413.08" stroke="#333" stroke-width="0.6"/>
<line x1="108.6" y1="409.03" x2="110.6" y2="409.03" stroke="#333" stroke-width="0.6"/>
<line x1="108.6" y1="406.15" x2="110.6" y2="406.15" stroke="#333" stroke-width="0.6"/>
<line x1="108.6" y1="403.92" x2="110.6" y2="403.92" stroke="#333" stroke-width="0.6"/>
<line x1="108.6" y1="402.1" x2="110.6" y2="402.1" stroke="#333" stroke-width="0.6"/>
<line x1="108.6" y1="400.56" x2="110.6" y2="400.56" stroke="#333" stroke-width="0.6"/>
<line x1="108.6" y1="399.23" x2="110.6" y2="399.23" stroke="#333" stroke-width="0.6"/>
<line x1="108.6" y1="398.05" x2="110.6" y2="398.05" stroke="#333" stroke-width="0.6"/>
<line x1="106.6" y1="397.0" x2="110.6" y2="397.0" stroke="#333" stroke-width="0.6"/>
<line x1="108.6" y1="390.08" x2="110.6" y2="390.08" stroke="#333" stroke-width="0.6"/>
<line x1="108.6" y1="386.03" x2="110.6" y2="386.03" stroke="#333" stroke-width="0.6"/>
<line x1="108.6" y1="383.15" x2="110.6" y2="383.15" stroke="#333" stroke-width="0.6"/>
<line x1="108.6" y1="380.92" x2="110.6" y2="380.92" stroke="#333" stroke-width="0.6"/>
<line x1="108.6" y1="379.1" x2="110.6" y2="379.1" stroke="#333" stroke-width="0.6"/>
<line x1="108.6" y1="377.56" x2="110.6" y2="377.56" stroke="#333" stroke-width="0.6"/>
<line x1="108.6" y1="376.23" x2="110.6" y2="376.23" stroke="#333" stroke-width="0.6"/>
<line x1="108.6" y1="375.05" x2="110.6" y2="375.05" stroke="#333" stroke-width="0.6"/>
<line x1="106.6" y1="374.0" x2="110.6" y2="374.0" stroke="#333" stroke-width="0.6"/>
<line x1="108.6" y1="367.08" x2="110.6" y2="367.08" stroke="#333" stroke-width="0.6"/>
<line x1="108.6" y1="363.03" x2="110.6" y2="363.03" stroke="#333" stroke-width="0.6"/>
<line x1="108.6" y1="360.15" x2="110.6" y2="360.15" stroke="#333" stroke-width="0.6"/>
<line x1="108.6" y1="357.92" x2="110.6" y2="357.92" stroke="#333" stroke-width="0.6"/>
<line x1="108.6" y1="356.1" x2="110.6" y2="356.1" stroke="#333" stroke-width="0.6"/>
<line x1="108.6" y1="354.56" x2="110.6" y2="354.56" stroke="#333" stroke-width="0.6"/>
<line x1="108.6" y1="353.23" x2="110.6" y2="353.23" stroke="#333" stroke-width="0.6"/>
<line x1="108.6" y1="352.05" x2="110.6" y2="352.05" stroke="#333" stroke-width="0.6"/>
<line x1="106.6" y1="351.0" x2="110.6" y2="351.0" stroke="#333" stroke-width="0.6"/>
<line x1="108.6" y1="344.08" x2="110.6" y2="344.08" stroke="#333" stroke-width="0.6"/>
<text transform="translate(106.00,354.00) rotate(-90)" font-size="5.6" font-weight="bold">10<tspan dy="-3.2" font-size="4.8">5</tspan></text>
<text transform="translate(106.00,377.00) rotate(-90)" font-size="5.6" font-weight="bold">10<tspan dy="-3.2" font-size="4.8">4</tspan></text>
<text transform="translate(106.00,400.00) rotate(-90)" font-size="5.6" font-weight="bold">10<tspan dy="-3.2" font-size="4.8">3</tspan></text>
<text transform="translate(106.00,423.00) rotate(-90)" font-size="5.6" font-weight="bold">10<tspan dy="-3.2" font-size="4.8">2</tspan></text>
<text transform="translate(96.60,387.30) rotate(-90)" font-size="6.0" font-weight="bold" text-anchor="middle">CFSE FITC-A</text>
<line x1="114.13" y1="433.0" x2="114.13" y2="435.2" stroke="#333" stroke-width="0.6"/>
<line x1="117.66" y1="433.0" x2="117.66" y2="435.2" stroke="#333" stroke-width="0.6"/>
<line x1="121.2" y1="433.0" x2="121.2" y2="435.2" stroke="#333" stroke-width="0.6"/>
<line x1="124.73" y1="433.0" x2="124.73" y2="435.2" stroke="#333" stroke-width="0.6"/>
<line x1="128.26" y1="433.0" x2="128.26" y2="437.2" stroke="#333" stroke-width="0.6"/>
<line x1="131.79" y1="433.0" x2="131.79" y2="435.2" stroke="#333" stroke-width="0.6"/>
<line x1="135.33" y1="433.0" x2="135.33" y2="435.2" stroke="#333" stroke-width="0.6"/>
<line x1="138.86" y1="433.0" x2="138.86" y2="435.2" stroke="#333" stroke-width="0.6"/>
<line x1="142.39" y1="433.0" x2="142.39" y2="435.2" stroke="#333" stroke-width="0.6"/>
<line x1="145.92" y1="433.0" x2="145.92" y2="437.2" stroke="#333" stroke-width="0.6"/>
<line x1="149.46" y1="433.0" x2="149.46" y2="435.2" stroke="#333" stroke-width="0.6"/>
<line x1="152.99" y1="433.0" x2="152.99" y2="435.2" stroke="#333" stroke-width="0.6"/>
<line x1="156.52" y1="433.0" x2="156.52" y2="435.2" stroke="#333" stroke-width="0.6"/>
<line x1="160.05" y1="433.0" x2="160.05" y2="435.2" stroke="#333" stroke-width="0.6"/>
<line x1="163.59" y1="433.0" x2="163.59" y2="437.2" stroke="#333" stroke-width="0.6"/>
<line x1="167.12" y1="433.0" x2="167.12" y2="435.2" stroke="#333" stroke-width="0.6"/>
<line x1="170.65" y1="433.0" x2="170.65" y2="435.2" stroke="#333" stroke-width="0.6"/>
<line x1="174.18" y1="433.0" x2="174.18" y2="435.2" stroke="#333" stroke-width="0.6"/>
<line x1="177.72" y1="433.0" x2="177.72" y2="435.2" stroke="#333" stroke-width="0.6"/>
<line x1="181.25" y1="433.0" x2="181.25" y2="437.2" stroke="#333" stroke-width="0.6"/>
<line x1="184.78" y1="433.0" x2="184.78" y2="435.2" stroke="#333" stroke-width="0.6"/>
<line x1="188.31" y1="433.0" x2="188.31" y2="435.2" stroke="#333" stroke-width="0.6"/>
<line x1="191.85" y1="433.0" x2="191.85" y2="435.2" stroke="#333" stroke-width="0.6"/>
<line x1="195.38" y1="433.0" x2="195.38" y2="435.2" stroke="#333" stroke-width="0.6"/>
<line x1="198.91" y1="433.0" x2="198.91" y2="437.2" stroke="#333" stroke-width="0.6"/>
<line x1="202.44" y1="433.0" x2="202.44" y2="435.2" stroke="#333" stroke-width="0.6"/>
<text x="128.26" y="445.00" font-size="5.6" font-weight="bold" text-anchor="middle">50</text>
<text x="145.92" y="445.00" font-size="5.6" font-weight="bold" text-anchor="middle">100</text>
<text x="163.59" y="445.00" font-size="5.6" font-weight="bold" text-anchor="middle">150</text>
<text x="181.25" y="445.00" font-size="5.6" font-weight="bold" text-anchor="middle">200</text>
<text x="198.91" y="445.00" font-size="5.6" font-weight="bold" text-anchor="middle">250</text>
<text x="155.90" y="452.80" font-size="5.6" font-weight="bold" text-anchor="middle">FSC-A</text>
<text x="203.20" y="452.80" font-size="5.6" font-weight="bold" text-anchor="end">(x 1,000)</text>
<rect x="116.90" y="341.20" width="42.00" height="39.90" fill="none" stroke="#6a6a6a" stroke-width="1.1"/>
<rect x="116.80" y="406.20" width="75.00" height="26.40" fill="none" stroke="#6a6a6a" stroke-width="1.1"/>
<text x="132.20" y="377.40" font-size="6.1" fill="#555" text-anchor="start">Lin- CFSE+</text>
<text x="158.20" y="415.40" font-size="6.1" fill="#555" text-anchor="start">Lin- CFSE-</text>
<text x="169.3" y="365.6" font-size="10.5" font-weight="bold" text-anchor="start" fill="#000" >1.8%</text>
<text x="281.5" y="333.2" font-size="10.45" font-weight="bold" text-anchor="middle" fill="#000" >Lin- CFSE+ gate</text>
<path transform="translate(0 0.5)" d="M264 397h1m4 1h1m-11 1h1m18 0h1m-9 1h1m0 0h1m1 0h1m-24 1h1m5 0h1m8 0h1m-18 1h1m21 0h1m2 0h1m11 1h1m-36 1h1m17 0h1m6 0h1m-1 1h1m1 0h1m-30 1h1m1 0h1m2 0h1m18 0h1m3 0h1m-21 1h1m3 0h1m0 0h1m5 0h1m5 0h1m2 0h1m9 0h1m-38 1h1m9 0h1m3 0h1m2 0h1m0 0h1m-29 1h1m4 0h1m5 0h1m0 0h1m1 0h1m0 0h1m13 0h1m4 0h1m1 0h1m5 0h1m9 0h1m-40 1h1m2 0h1m5 0h1m1 0h1m0 0h1m0 0h1m2 0h1m2 0h1m2 0h1m1 0h1m-32 1h1m3 0h1m13 0h1m0 0h1m5 0h1m5 0h1m-18 1h1m9 0h1m4 0h1m3 0h1m2 0h1m-34 1h1m10 0h1m1 0h1m5 0h1m3 0h1m-24 1h1m7 0h1m1 0h1m0 0h1m-10 1h1m5 0h1m1 0h1m0 0h1m1 0h1m1 0h1m10 0h1m8 0h1m-36 1h1m11 0h1m2 0h1m4 0h1m-10 1h1m4 0h1m1 0h1m-30 1h1m3 0h1m14 0h1m13 0h1m-15 2h1m28 0h1m-14 1h1m-35 1h1m61 0h1m-50 1h1m5 1h1m11 3h1" stroke="#8a8a8a" stroke-width="1" fill="none" filter="url(#bl)"/>
<path transform="translate(0 0.5)" d="M279 381h1m-3 6h1m4 4h1m-28 1h1m33 5h1m-37 4h1m-17 1h1m28 0h1m1 0h1m-4 1h1m3 0h1m-7 2h1m6 0h1m10 0h1m6 0h1m4 0h1m28 0h1m-68 1h1m1 0h1m-9 1h1m15 0h1m48 0h1m-36 1h1m-37 1h1m19 0h1m1 0h1m4 0h1m22 0h1m-26 2h1m12 0h1m7 0h1m-25 1h1m7 0h1m35 0h1m-44 2h1m2 0h1m8 0h1m0 0h1m3 0h1m4 0h1m17 0h1m-67 1h1m3 0h1m32 2h1m0 0h1m4 0h1m0 0h1m-18 1h1m0 0h1m14 0h1m16 0h1m-53 1h1m18 0h1m2 0h1m-7 1h1m27 1h1m-48 1h1m12 0h1m4 0h1m16 0h1m5 0h1m-35 1h1m5 0h1m11 0h1m24 0h1m-47 1h1m21 0h1m-24 1h1m6 0h1m7 0h1m15 0h1m-28 1h1m3 0h1m4 0h1m8 0h1m14 0h1m10 0h1m-33 1h1m8 0h1m9 0h1m34 1h1m-43 1h1m39 0h1m-49 1h1m28 0h1m-31 1h1m35 0h1" stroke="#b0b0b0" stroke-width="1" fill="none" filter="url(#bl)"/>
<rect x="236.3" y="340.8" width="92.60" height="92.20" fill="none" stroke="#505050" stroke-width="1.0"/>
<line x1="234.3" y1="432.03" x2="236.3" y2="432.03" stroke="#333" stroke-width="0.6"/>
<line x1="234.3" y1="429.15" x2="236.3" y2="429.15" stroke="#333" stroke-width="0.6"/>
<line x1="234.3" y1="426.92" x2="236.3" y2="426.92" stroke="#333" stroke-width="0.6"/>
<line x1="234.3" y1="425.1" x2="236.3" y2="425.1" stroke="#333" stroke-width="0.6"/>
<line x1="234.3" y1="423.56" x2="236.3" y2="423.56" stroke="#333" stroke-width="0.6"/>
<line x1="234.3" y1="422.23" x2="236.3" y2="422.23" stroke="#333" stroke-width="0.6"/>
<line x1="234.3" y1="421.05" x2="236.3" y2="421.05" stroke="#333" stroke-width="0.6"/>
<line x1="232.3" y1="420.0" x2="236.3" y2="420.0" stroke="#333" stroke-width="0.6"/>
<line x1="234.3" y1="413.08" x2="236.3" y2="413.08" stroke="#333" stroke-width="0.6"/>
<line x1="234.3" y1="409.03" x2="236.3" y2="409.03" stroke="#333" stroke-width="0.6"/>
<line x1="234.3" y1="406.15" x2="236.3" y2="406.15" stroke="#333" stroke-width="0.6"/>
<line x1="234.3" y1="403.92" x2="236.3" y2="403.92" stroke="#333" stroke-width="0.6"/>
<line x1="234.3" y1="402.1" x2="236.3" y2="402.1" stroke="#333" stroke-width="0.6"/>
<line x1="234.3" y1="400.56" x2="236.3" y2="400.56" stroke="#333" stroke-width="0.6"/>
<line x1="234.3" y1="399.23" x2="236.3" y2="399.23" stroke="#333" stroke-width="0.6"/>
<line x1="234.3" y1="398.05" x2="236.3" y2="398.05" stroke="#333" stroke-width="0.6"/>
<line x1="232.3" y1="397.0" x2="236.3" y2="397.0" stroke="#333" stroke-width="0.6"/>
<line x1="234.3" y1="390.08" x2="236.3" y2="390.08" stroke="#333" stroke-width="0.6"/>
<line x1="234.3" y1="386.03" x2="236.3" y2="386.03" stroke="#333" stroke-width="0.6"/>
<line x1="234.3" y1="383.15" x2="236.3" y2="383.15" stroke="#333" stroke-width="0.6"/>
<line x1="234.3" y1="380.92" x2="236.3" y2="380.92" stroke="#333" stroke-width="0.6"/>
<line x1="234.3" y1="379.1" x2="236.3" y2="379.1" stroke="#333" stroke-width="0.6"/>
<line x1="234.3" y1="377.56" x2="236.3" y2="377.56" stroke="#333" stroke-width="0.6"/>
<line x1="234.3" y1="376.23" x2="236.3" y2="376.23" stroke="#333" stroke-width="0.6"/>
<line x1="234.3" y1="375.05" x2="236.3" y2="375.05" stroke="#333" stroke-width="0.6"/>
<line x1="232.3" y1="374.0" x2="236.3" y2="374.0" stroke="#333" stroke-width="0.6"/>
<line x1="234.3" y1="367.08" x2="236.3" y2="367.08" stroke="#333" stroke-width="0.6"/>
<line x1="234.3" y1="363.03" x2="236.3" y2="363.03" stroke="#333" stroke-width="0.6"/>
<line x1="234.3" y1="360.15" x2="236.3" y2="360.15" stroke="#333" stroke-width="0.6"/>
<line x1="234.3" y1="357.92" x2="236.3" y2="357.92" stroke="#333" stroke-width="0.6"/>
<line x1="234.3" y1="356.1" x2="236.3" y2="356.1" stroke="#333" stroke-width="0.6"/>
<line x1="234.3" y1="354.56" x2="236.3" y2="354.56" stroke="#333" stroke-width="0.6"/>
<line x1="234.3" y1="353.23" x2="236.3" y2="353.23" stroke="#333" stroke-width="0.6"/>
<line x1="234.3" y1="352.05" x2="236.3" y2="352.05" stroke="#333" stroke-width="0.6"/>
<line x1="232.3" y1="351.0" x2="236.3" y2="351.0" stroke="#333" stroke-width="0.6"/>
<line x1="234.3" y1="344.08" x2="236.3" y2="344.08" stroke="#333" stroke-width="0.6"/>
<text transform="translate(231.70,354.00) rotate(-90)" font-size="5.6" font-weight="bold">10<tspan dy="-3.2" font-size="4.8">5</tspan></text>
<text transform="translate(231.70,377.00) rotate(-90)" font-size="5.6" font-weight="bold">10<tspan dy="-3.2" font-size="4.8">4</tspan></text>
<text transform="translate(231.70,400.00) rotate(-90)" font-size="5.6" font-weight="bold">10<tspan dy="-3.2" font-size="4.8">3</tspan></text>
<text transform="translate(231.70,423.00) rotate(-90)" font-size="5.6" font-weight="bold">10<tspan dy="-3.2" font-size="4.8">2</tspan></text>
<text transform="translate(222.30,387.30) rotate(-90)" font-size="6.0" font-weight="bold" text-anchor="middle">c-Kit APC-A</text>
<line x1="237.27" y1="433.0" x2="237.27" y2="435.0" stroke="#333" stroke-width="0.6"/>
<line x1="240.15" y1="433.0" x2="240.15" y2="435.0" stroke="#333" stroke-width="0.6"/>
<line x1="242.38" y1="433.0" x2="242.38" y2="435.0" stroke="#333" stroke-width="0.6"/>
<line x1="244.2" y1="433.0" x2="244.2" y2="435.0" stroke="#333" stroke-width="0.6"/>
<line x1="245.74" y1="433.0" x2="245.74" y2="435.0" stroke="#333" stroke-width="0.6"/>
<line x1="247.07" y1="433.0" x2="247.07" y2="435.0" stroke="#333" stroke-width="0.6"/>
<line x1="248.25" y1="433.0" x2="248.25" y2="435.0" stroke="#333" stroke-width="0.6"/>
<line x1="249.3" y1="433.0" x2="249.3" y2="437.0" stroke="#333" stroke-width="0.6"/>
<line x1="256.22" y1="433.0" x2="256.22" y2="435.0" stroke="#333" stroke-width="0.6"/>
<line x1="260.27" y1="433.0" x2="260.27" y2="435.0" stroke="#333" stroke-width="0.6"/>
<line x1="263.15" y1="433.0" x2="263.15" y2="435.0" stroke="#333" stroke-width="0.6"/>
<line x1="265.38" y1="433.0" x2="265.38" y2="435.0" stroke="#333" stroke-width="0.6"/>
<line x1="267.2" y1="433.0" x2="267.2" y2="435.0" stroke="#333" stroke-width="0.6"/>
<line x1="268.74" y1="433.0" x2="268.74" y2="435.0" stroke="#333" stroke-width="0.6"/>
<line x1="270.07" y1="433.0" x2="270.07" y2="435.0" stroke="#333" stroke-width="0.6"/>
<line x1="271.25" y1="433.0" x2="271.25" y2="435.0" stroke="#333" stroke-width="0.6"/>
<line x1="272.3" y1="433.0" x2="272.3" y2="437.0" stroke="#333" stroke-width="0.6"/>
<line x1="279.22" y1="433.0" x2="279.22" y2="435.0" stroke="#333" stroke-width="0.6"/>
<line x1="283.27" y1="433.0" x2="283.27" y2="435.0" stroke="#333" stroke-width="0.6"/>
<line x1="286.15" y1="433.0" x2="286.15" y2="435.0" stroke="#333" stroke-width="0.6"/>
<line x1="288.38" y1="433.0" x2="288.38" y2="435.0" stroke="#333" stroke-width="0.6"/>
<line x1="290.2" y1="433.0" x2="290.2" y2="435.0" stroke="#333" stroke-width="0.6"/>
<line x1="291.74" y1="433.0" x2="291.74" y2="435.0" stroke="#333" stroke-width="0.6"/>
<line x1="293.07" y1="433.0" x2="293.07" y2="435.0" stroke="#333" stroke-width="0.6"/>
<line x1="294.25" y1="433.0" x2="294.25" y2="435.0" stroke="#333" stroke-width="0.6"/>
<line x1="295.3" y1="433.0" x2="295.3" y2="437.0" stroke="#333" stroke-width="0.6"/>
<line x1="302.22" y1="433.0" x2="302.22" y2="435.0" stroke="#333" stroke-width="0.6"/>
<line x1="306.27" y1="433.0" x2="306.27" y2="435.0" stroke="#333" stroke-width="0.6"/>
<line x1="309.15" y1="433.0" x2="309.15" y2="435.0" stroke="#333" stroke-width="0.6"/>
<line x1="311.38" y1="433.0" x2="311.38" y2="435.0" stroke="#333" stroke-width="0.6"/>
<line x1="313.2" y1="433.0" x2="313.2" y2="435.0" stroke="#333" stroke-width="0.6"/>
<line x1="314.74" y1="433.0" x2="314.74" y2="435.0" stroke="#333" stroke-width="0.6"/>
<line x1="316.07" y1="433.0" x2="316.07" y2="435.0" stroke="#333" stroke-width="0.6"/>
<line x1="317.25" y1="433.0" x2="317.25" y2="435.0" stroke="#333" stroke-width="0.6"/>
<line x1="318.3" y1="433.0" x2="318.3" y2="437.0" stroke="#333" stroke-width="0.6"/>
<line x1="325.22" y1="433.0" x2="325.22" y2="435.0" stroke="#333" stroke-width="0.6"/>
<text x="245.70" y="445.00" font-size="5.8" font-weight="bold">10<tspan dy="-3.4" font-size="4.8">2</tspan></text>
<text x="268.70" y="445.00" font-size="5.8" font-weight="bold">10<tspan dy="-3.4" font-size="4.8">3</tspan></text>
<text x="291.70" y="445.00" font-size="5.8" font-weight="bold">10<tspan dy="-3.4" font-size="4.8">4</tspan></text>
<text x="314.70" y="445.00" font-size="5.8" font-weight="bold">10<tspan dy="-3.4" font-size="4.8">5</tspan></text>
<text x="283.00" y="452.60" font-size="6.0" font-weight="bold" text-anchor="middle">Sca-1 PE-A</text>
<rect x="273.50" y="377.40" width="36.10" height="20.40" fill="none" stroke="#6a6a6a" stroke-width="1.1"/>
<text x="306.50" y="385.60" font-size="6.1" fill="#555" text-anchor="end">KSL</text>
<text x="278.4" y="365.6" font-size="10.5" font-weight="bold" text-anchor="start" fill="#000" >2.9%</text>
<text x="408.2" y="333.2" font-size="10.45" font-weight="bold" text-anchor="middle" fill="#000" >Lin- CFSE- gate</text>
<path transform="translate(0 0.5)" d="M366 382h1m-4 1h1m3 1h1m25 1h1m-19 1h1m-14 1h1m2 0h1m5 0h1m11 0h1m-3 1h1m-10 1h1m5 0h1m3 0h1m-21 1h1m13 0h1m44 0h1m2 0h1m-58 1h1m-1 1h1m2 0h1m4 0h1m2 0h1m0 0h1m-7 1h1m-8 1h1m2 0h1m4 0h1m25 0h1m-37 1h1m2 0h1m2 0h1m7 0h1m8 0h1m10 0h1m0 0h1m2 0h1m-39 1h1m4 0h1m0 0h1m6 0h1m2 0h1m0 0h1m9 0h1m0 0h1m0 0h1m3 0h1m0 0h1m2 0h1m-38 1h1m5 0h1m5 0h1m0 0h1m17 0h1m10 0h1m-42 1h1m2 0h1m1 0h1m7 0h1m0 0h1m4 0h1m4 0h1m13 0h1m-40 1h1m0 0h1m5 0h1m12 0h1m1 0h1m0 0h1m0 0h1m1 0h1m5 0h1m3 0h1m3 0h1m-40 1h1m2 0h1m8 0h1m2 0h1m0 0h1m1 0h1m0 0h1m5 0h1m0 0h1m3 0h1m5 0h1m-39 1h1m1 0h1m2 0h1m2 0h1m1 0h1m0 0h1m0 0h1m3 0h1m3 0h1m0 0h1m0 0h1m0 0h1m2 0h1m5 0h1m11 0h1m2 0h1m10 0h1m-60 1h1m0 0h1m0 0h1m0 0h1m0 0h1m3 0h1m1 0h1m0 0h1m0 0h1m1 0h1m1 0h1m1 0h1m1 0h1m6 0h1m0 0h1m3 0h1m6 0h1m0 0h1m-41 1h1m1 0h1m0 0h1m0 0h1m0 0h1m0 0h1m0 0h1m0 0h1m4 0h1m0 0h1m1 0h1m1 0h1m1 0h1m1 0h1m1 0h1m0 0h1m0 0h1m2 0h1m3 0h1m0 0h1m1 0h1m4 0h1m1 0h1m-42 1h1m0 0h1m1 0h1m0 0h1m0 0h1m0 0h1m0 0h1m1 0h1m0 0h1m0 0h1m6 0h1m0 0h1m0 0h1m0 0h1m0 0h1m4 0h1m3 0h1m3 0h1m6 0h1m1 0h1m-46 1h1m0 0h1m0 0h1m1 0h1m0 0h1m1 0h1m1 0h1m1 0h1m0 0h1m1 0h1m0 0h1m0 0h1m0 0h1m1 0h1m0 0h1m0 0h1m0 0h1m0 0h1m0 0h1m2 0h1m3 0h1m0 0h1m2 0h1m-37 1h1m0 0h1m0 0h1m0 0h1m0 0h1m0 0h1m2 0h1m0 0h1m0 0h1m0 0h1m1 0h1m0 0h1m0 0h1m1 0h1m1 0h1m1 0h1m1 0h1m0 0h1m0 0h1m0 0h1m0 0h1m5 0h1m1 0h1m-36 1h1m0 0h1m0 0h1m0 0h1m2 0h1m0 0h1m0 0h1m0 0h1m0 0h1m1 0h1m0 0h1m0 0h1m0 0h1m2 0h1m1 0h1m2 0h1m0 0h1m1 0h1m0 0h1m3 0h1m0 0h1m2 0h1m0 0h1m2 0h1m2 0h1m3 0h1m0 0h1m10 0h1m-55 1h1m0 0h1m0 0h1m0 0h1m1 0h1m0 0h1m0 0h1m0 0h1m1 0h1m0 0h1m0 0h1m2 0h1m0 0h1m0 0h1m0 0h1m0 0h1m0 0h1m2 0h1m0 0h1m2 0h1m0 0h1m2 0h1m1 0h1m0 0h1m1 0h1m-41 1h1m0 0h1m0 0h1m0 0h1m0 0h1m0 0h1m0 0h1m0 0h1m1 0h1m0 0h1m0 0h1m0 0h1m0 0h1m0 0h1m0 0h1m0 0h1m0 0h1m0 0h1m0 0h1m3 0h1m2 0h1m0 0h1m0 0h1m0 0h1m0 0h1m0 0h1m1 0h1m0 0h1m0 0h1m4 0h1m24 0h1m-66 1h1m2 0h1m0 0h1m0 0h1m0 0h1m0 0h1m0 0h1m0 0h1m0 0h1m0 0h1m0 0h1m0 0h1m0 0h1m0 0h1m0 0h1m0 0h1m0 0h1m0 0h1m0 0h1m0 0h1m0 0h1m1 0h1m0 0h1m0 0h1m0 0h1m0 0h1m1 0h1m2 0h1m1 0h1m1 0h1m4 0h1m3 0h1m-46 1h1m0 0h1m0 0h1m0 0h1m0 0h1m0 0h1m0 0h1m0 0h1m0 0h1m0 0h1m0 0h1m0 0h1m0 0h1m1 0h1m0 0h1m0 0h1m1 0h1m0 0h1m0 0h1m0 0h1m0 0h1m0 0h1m2 0h1m0 0h1m1 0h1m2 0h1m0 0h1m0 0h1m0 0h1m13 0h1m-50 1h1m1 0h1m0 0h1m0 0h1m0 0h1m0 0h1m1 0h1m0 0h1m0 0h1m0 0h1m0 0h1m0 0h1m0 0h1m0 0h1m0 0h1m0 0h1m0 0h1m0 0h1m0 0h1m0 0h1m0 0h1m0 0h1m1 0h1m0 0h1m0 0h1m0 0h1m0 0h1m7 0h1m0 0h1m3 0h1m0 0h1m0 0h1m3 0h1m1 0h1m-52 1h1m0 0h1m0 0h1m0 0h1m0 0h1m0 0h1m0 0h1m0 0h1m0 0h1m0 0h1m0 0h1m0 0h1m0 0h1m0 0h1m0 0h1m0 0h1m0 0h1m0 0h1m1 0h1m0 0h1m0 0h1m0 0h1m0 0h1m0 0h1m0 0h1m0 0h1m5 0h1m1 0h1m0 0h1m0 0h1m3 0h1m-41 1h1m1 0h1m0 0h1m0 0h1m0 0h1m0 0h1m0 0h1m0 0h1m0 0h1m0 0h1m0 0h1m0 0h1m0 0h1m0 0h1m0 0h1m0 0h1m1 0h1m0 0h1m0 0h1m0 0h1m0 0h1m0 0h1m0 0h1m0 0h1m0 0h1m0 0h1m0 0h1m0 0h1m0 0h1m3 0h1m2 0h1m1 0h1m2 0h1m3 0h1m-46 1h1m0 0h1m0 0h1m0 0h1m0 0h1m1 0h1m0 0h1m0 0h1m0 0h1m0 0h1m0 0h1m0 0h1m0 0h1m0 0h1m0 0h1m0 0h1m0 0h1m0 0h1m0 0h1m0 0h1m0 0h1m0 0h1m0 0h1m0 0h1m0 0h1m0 0h1m0 0h1m0 0h1m0 0h1m0 0h1m0 0h1m0 0h1m0 0h1m0 0h1m0 0h1m0 0h1m1 0h1m2 0h1m2 0h1m2 0h1m-49 1h1m0 0h1m0 0h1m0 0h1m0 0h1m0 0h1m0 0h1m0 0h1m0 0h1m0 0h1m0 0h1m0 0h1m0 0h1m0 0h1m0 0h1m0 0h1m0 0h1m0 0h1m0 0h1m0 0h1m0 0h1m0 0h1m0 0h1m0 0h1m0 0h1m0 0h1m0 0h1m0 0h1m0 0h1m0 0h1m0 0h1m0 0h1m0 0h1m0 0h1m0 0h1m4 0h1m0 0h1m0 0h1m2 0h1m-45 1h1m0 0h1m0 0h1m0 0h1m1 0h1m0 0h1m0 0h1m0 0h1m0 0h1m1 0h1m0 0h1m1 0h1m0 0h1m0 0h1m0 0h1m0 0h1m0 0h1m0 0h1m0 0h1m1 0h1m1 0h1m0 0h1m0 0h1m0 0h1m1 0h1m0 0h1m1 0h1m0 0h1m3 0h1m8 0h1m-48 1h1m0 0h1m0 0h1m0 0h1m0 0h1m0 0h1m0 0h1m0 0h1m0 0h1m0 0h1m0 0h1m0 0h1m0 0h1m0 0h1m0 0h1m0 0h1m0 0h1m0 0h1m0 0h1m0 0h1m0 0h1m0 0h1m0 0h1m1 0h1m0 0h1m0 0h1m0 0h1m0 0h1m0 0h1m0 0h1m0 0h1m2 0h1m0 0h1m7 0h1m7 0h1m22 0h1m-75 1h1m0 0h1m0 0h1m0 0h1m0 0h1m0 0h1m0 0h1m0 0h1m0 0h1m0 0h1m2 0h1m0 0h1m0 0h1m0 0h1m0 0h1m0 0h1m1 0h1m0 0h1m0 0h1m0 0h1m0 0h1m0 0h1m0 0h1m0 0h1m0 0h1m0 0h1m0 0h1m1 0h1m0 0h1m1 0h1m4 0h1m0 0h1m0 0h1m0 0h1m0 0h1m0 0h1m1 0h1m0 0h1m1 0h1m0 0h1m-51 1h1m0 0h1m0 0h1m0 0h1m0 0h1m0 0h1m0 0h1m0 0h1m0 0h1m0 0h1m1 0h1m1 0h1m0 0h1m0 0h1m0 0h1m1 0h1m0 0h1m0 0h1m0 0h1m1 0h1m1 0h1m0 0h1m0 0h1m0 0h1m0 0h1m0 0h1m0 0h1m4 0h1m6 0h1m3 0h1m-48 1h1m0 0h1m0 0h1m0 0h1m0 0h1m0 0h1m0 0h1m0 0h1m0 0h1m0 0h1m0 0h1m0 0h1m0 0h1m0 0h1m1 0h1m0 0h1m0 0h1m0 0h1m0 0h1m0 0h1m0 0h1m0 0h1m0 0h1m0 0h1m0 0h1m0 0h1m0 0h1m0 0h1m0 0h1m0 0h1m0 0h1m0 0h1m0 0h1m0 0h1m0 0h1m1 0h1m0 0h1m4 0h1m7 0h1m-52 1h1m0 0h1m0 0h1m0 0h1m0 0h1m0 0h1m1 0h1m0 0h1m0 0h1m0 0h1m0 0h1m0 0h1m0 0h1m0 0h1m0 0h1m0 0h1m1 0h1m0 0h1m0 0h1m0 0h1m0 0h1m0 0h1m0 0h1m0 0h1m0 0h1m0 0h1m0 0h1m1 0h1m0 0h1m0 0h1m1 0h1m1 0h1m0 0h1m0 0h1m0 0h1m5 0h1m3 0h1m-50 1h1m0 0h1m0 0h1m0 0h1m0 0h1m0 0h1m0 0h1m0 0h1m0 0h1m0 0h1m0 0h1m0 0h1m0 0h1m0 0h1m0 0h1m0 0h1m0 0h1m0 0h1m0 0h1m0 0h1m0 0h1m0 0h1m0 0h1m0 0h1m0 0h1m0 0h1m0 0h1m0 0h1m0 0h1m2 0h1m0 0h1m0 0h1m0 0h1m0 0h1m1 0h1m0 0h1m0 0h1m3 0h1m0 0h1m11 0h1m-57 1h1m0 0h1m0 0h1m0 0h1m1 0h1m0 0h1m0 0h1m0 0h1m0 0h1m0 0h1m0 0h1m0 0h1m0 0h1m0 0h1m1 0h1m0 0h1m0 0h1m0 0h1m0 0h1m0 0h1m0 0h1m0 0h1m0 0h1m0 0h1m0 0h1m1 0h1m0 0h1m0 0h1m3 0h1m1 0h1m0 0h1m0 0h1m0 0h1m1 0h1m0 0h1m-43 1h1m1 0h1m0 0h1m0 0h1m0 0h1m0 0h1m0 0h1m0 0h1m0 0h1m0 0h1m0 0h1m0 0h1m0 0h1m0 0h1m0 0h1m0 0h1m0 0h1m0 0h1m0 0h1m1 0h1m0 0h1m0 0h1m0 0h1m0 0h1m0 0h1m0 0h1m0 0h1m1 0h1m1 0h1m0 0h1m1 0h1m0 0h1m0 0h1m1 0h1m4 0h1m0 0h1m1 0h1m4 0h1m1 0h1m-55 1h1m0 0h1m0 0h1m0 0h1m0 0h1m0 0h1m0 0h1m0 0h1m0 0h1m0 0h1m0 0h1m1 0h1m0 0h1m0 0h1m0 0h1m0 0h1m0 0h1m0 0h1m1 0h1m0 0h1m0 0h1m0 0h1m0 0h1m0 0h1m0 0h1m0 0h1m0 0h1m0 0h1m1 0h1m0 0h1m0 0h1m1 0h1m0 0h1m1 0h1m0 0h1m4 0h1m1 0h1m0 0h1m4 0h1m-53 1h1m0 0h1m1 0h1m0 0h1m0 0h1m0 0h1m0 0h1m0 0h1m1 0h1m0 0h1m0 0h1m0 0h1m0 0h1m0 0h1m0 0h1m0 0h1m0 0h1m0 0h1m0 0h1m0 0h1m0 0h1m0 0h1m0 0h1m0 0h1m0 0h1m0 0h1m0 0h1m0 0h1m0 0h1m0 0h1m0 0h1m0 0h1m0 0h1m2 0h1m2 0h1m1 0h1m1 0h1m7 0h1m0 0h1m2 0h1m-57 1h1m1 0h1m0 0h1m0 0h1m0 0h1m0 0h1m1 0h1m0 0h1m0 0h1m0 0h1m0 0h1m0 0h1m0 0h1m0 0h1m0 0h1m0 0h1m1 0h1m0 0h1m0 0h1m1 0h1m0 0h1m0 0h1m0 0h1m0 0h1m1 0h1m1 0h1m0 0h1m1 0h1m2 0h1m3 0h1m2 0h1m3 0h1m2 0h1m-52 1h1m0 0h1m0 0h1m0 0h1m0 0h1m0 0h1m0 0h1m0 0h1m0 0h1m0 0h1m0 0h1m0 0h1m0 0h1m0 0h1m0 0h1m0 0h1m0 0h1m1 0h1m0 0h1m0 0h1m0 0h1m0 0h1m0 0h1m0 0h1m0 0h1m0 0h1m0 0h1m0 0h1m0 0h1m0 0h1m0 0h1m1 0h1m1 0h1m1 0h1m0 0h1m0 0h1m4 0h1m0 0h1m6 0h1m-52 1h1m0 0h1m0 0h1m0 0h1m0 0h1m1 0h1m0 0h1m0 0h1m0 0h1m0 0h1m0 0h1m0 0h1m0 0h1m0 0h1m0 0h1m0 0h1m0 0h1m0 0h1m0 0h1m1 0h1m0 0h1m0 0h1m0 0h1m0 0h1m0 0h1m0 0h1m0 0h1m0 0h1m0 0h1m1 0h1m5 0h1m3 0h1m1 0h1m0 0h1m1 0h1m3 0h1m-53 1h1m0 0h1m0 0h1m0 0h1m0 0h1m0 0h1m0 0h1m0 0h1m0 0h1m0 0h1m0 0h1m0 0h1m0 0h1m0 0h1m0 0h1m0 0h1m0 0h1m0 0h1m0 0h1m0 0h1m0 0h1m0 0h1m0 0h1m0 0h1m0 0h1m0 0h1m0 0h1m0 0h1m0 0h1m0 0h1m0 0h1m2 0h1m0 0h1m2 0h1m1 0h1m5 0h1m1 0h1m-47 1h1m0 0h1m0 0h1m0 0h1m0 0h1m0 0h1m0 0h1m0 0h1m0 0h1m0 0h1m1 0h1m0 0h1m0 0h1m0 0h1m0 0h1m0 0h1m0 0h1m0 0h1m0 0h1m0 0h1m0 0h1m0 0h1m0 0h1m0 0h1m0 0h1m1 0h1m0 0h1m0 0h1m0 0h1m0 0h1m3 0h1m2 0h1m17 0h1" stroke="#6c6c6c" stroke-width="1" fill="none" filter="url(#bl)"/>
<path transform="translate(0 0.5)" d="M373 390h1m43 7h1m21 1h1m-25 1h1m0 1h1m-29 1h1m13 0h1m3 1h1m21 0h1m23 0h1m-51 1h1m4 0h1m12 0h1m0 0h1m4 0h1m0 0h1m2 0h1m-9 1h1m4 0h1m-28 1h1m5 0h1m0 0h1m17 0h1m-28 1h1m9 0h1m4 0h1m5 0h1m14 0h1m-33 1h1m4 0h1m6 0h1m12 0h1m0 0h1m5 0h1m2 0h1m-59 1h1m27 0h1m4 0h1m1 0h1m5 0h1m3 0h1m0 0h1m3 0h1m-48 1h1m17 0h1m3 0h1m0 0h1m1 0h1m2 0h1m7 0h1m1 0h1m5 0h1m24 0h1m-58 1h1m1 0h1m8 0h1m3 0h1m0 0h1m11 0h1m3 0h1m0 0h1m0 0h1m1 0h1m5 0h1m-57 1h1m10 0h1m21 0h1m0 0h1m2 0h1m1 0h1m2 0h1m6 0h1m4 0h1m-42 1h1m0 0h1m1 0h1m0 0h1m0 0h1m3 0h1m7 0h1m3 0h1m5 0h1m1 0h1m9 0h1m15 0h1m-56 1h1m6 0h1m0 0h1m1 0h1m1 0h1m0 0h1m4 0h1m1 0h1m0 0h1m6 0h1m4 0h1m1 0h1m8 0h1m-45 1h1m3 0h1m2 0h1m1 0h1m2 0h1m6 0h1m3 0h1m0 0h1m0 0h1m3 0h1m1 0h1m0 0h1m7 0h1m3 0h1m-70 1h1m34 0h1m1 0h1m0 0h1m2 0h1m3 0h1m0 0h1m3 0h1m0 0h1m1 0h1m1 0h1m3 0h1m3 0h1m0 0h1m0 0h1m1 0h1m-37 1h1m0 0h1m4 0h1m4 0h1m0 0h1m6 0h1m3 0h1m1 0h1m2 0h1m1 0h1m2 0h1m0 0h1m10 0h1m-70 1h1m18 0h1m2 0h1m0 0h1m0 0h1m1 0h1m1 0h1m1 0h1m0 0h1m3 0h1m1 0h1m0 0h1m1 0h1m0 0h1m1 0h1m0 0h1m1 0h1m1 0h1m0 0h1m1 0h1m1 0h1m3 0h1m1 0h1m11 0h1m-62 1h1m8 0h1m0 0h1m4 0h1m0 0h1m0 0h1m0 0h1m0 0h1m1 0h1m0 0h1m0 0h1m0 0h1m1 0h1m3 0h1m0 0h1m0 0h1m0 0h1m0 0h1m0 0h1m1 0h1m2 0h1m0 0h1m0 0h1m1 0h1m4 0h1m8 0h1m1 0h1m-66 1h1m17 0h1m14 0h1m1 0h1m0 0h1m0 0h1m0 0h1m0 0h1m2 0h1m1 0h1m0 0h1m1 0h1m0 0h1m0 0h1m1 0h1m1 0h1m4 0h1m1 0h1m8 0h1m-66 1h1m9 0h1m0 0h1m3 0h1m0 0h1m0 0h1m1 0h1m2 0h1m0 0h1m0 0h1m1 0h1m0 0h1m0 0h1m0 0h1m0 0h1m3 0h1m0 0h1m2 0h1m1 0h1m0 0h1m0 0h1m4 0h1m0 0h1m1 0h1m-37 1h1m2 0h1m0 0h1m0 0h1m0 0h1m1 0h1m0 0h1m0 0h1m0 0h1m0 0h1m0 0h1m0 0h1m2 0h1m0 0h1m1 0h1m0 0h1m0 0h1m0 0h1m0 0h1m0 0h1m0 0h1m0 0h1m3 0h1m0 0h1m0 0h1m2 0h1m2 0h1m1 0h1m6 0h1m-79 1h1m22 0h1m10 0h1m1 0h1m0 0h1m0 0h1m1 0h1m0 0h1m2 0h1m2 0h1m1 0h1m0 0h1m0 0h1m1 0h1m0 0h1m1 0h1m2 0h1m3 0h1m0 0h1m0 0h1m2 0h1m0 0h1m1 0h1m0 0h1m-50 1h1m6 0h1m3 0h1m0 0h1m0 0h1m3 0h1m0 0h1m0 0h1m0 0h1m1 0h1m1 0h1m3 0h1m1 0h1m0 0h1m0 0h1m0 0h1m5 0h1m9 0h1m-52 1h1m3 0h1m1 0h1m1 0h1m4 0h1m2 0h1m1 0h1m0 0h1m0 0h1m0 0h1m0 0h1m0 0h1m0 0h1m0 0h1m0 0h1m0 0h1m0 0h1m1 0h1m0 0h1m0 0h1m0 0h1m0 0h1m0 0h1m0 0h1m2 0h1m0 0h1m0 0h1m0 0h1m0 0h1m0 0h1m1 0h1m1 0h1m2 0h1m1 0h1m-52 1h1m1 0h1m2 0h1m3 0h1m1 0h1m0 0h1m1 0h1m4 0h1m0 0h1m0 0h1m0 0h1m4 0h1m0 0h1m0 0h1m0 0h1m0 0h1m0 0h1m0 0h1m0 0h1m0 0h1m2 0h1m3 0h1m0 0h1m2 0h1m0 0h1m6 0h1m-65 1h1m10 0h1m3 0h1m2 0h1m2 0h1m0 0h1m3 0h1m3 0h1m0 0h1m0 0h1m1 0h1m0 0h1m0 0h1m0 0h1m2 0h1m0 0h1m0 0h1m0 0h1m0 0h1m0 0h1m0 0h1m0 0h1m0 0h1m0 0h1m0 0h1m5 0h1m2 0h1m10 0h1m-88 1h1m32 0h1m0 0h1m1 0h1m0 0h1m1 0h1m1 0h1m1 0h1m0 0h1m0 0h1m0 0h1m0 0h1m0 0h1m0 0h1m2 0h1m0 0h1m1 0h1m0 0h1m0 0h1m0 0h1m0 0h1m0 0h1m0 0h1m0 0h1m0 0h1m0 0h1m0 0h1m1 0h1m4 0h1m2 0h1m5 0h1m-66 1h1m3 0h1m5 0h1m4 0h1m1 0h1m2 0h1m0 0h1m0 0h1m2 0h1m1 0h1m0 0h1m0 0h1m1 0h1m0 0h1m1 0h1m0 0h1m0 0h1m0 0h1m0 0h1m3 0h1m0 0h1m0 0h1m1 0h1m2 0h1m0 0h1m1 0h1m0 0h1m0 0h1m0 0h1m7 0h1m2 0h1m-53 1h1m1 0h1m1 0h1m3 0h1m0 0h1m0 0h1m0 0h1m3 0h1m0 0h1m0 0h1m0 0h1m0 0h1m1 0h1m0 0h1m1 0h1m0 0h1m0 0h1m0 0h1m0 0h1m1 0h1m0 0h1m3 0h1m0 0h1m3 0h1m2 0h1m2 0h1m0 0h1m-48 1h1m1 0h1m0 0h1m0 0h1m0 0h1m0 0h1m1 0h1m0 0h1m0 0h1m1 0h1m2 0h1m1 0h1m0 0h1m0 0h1m1 0h1m0 0h1m0 0h1m0 0h1m1 0h1m0 0h1m0 0h1m1 0h1m1 0h1m1 0h1m1 0h1m0 0h1m2 0h1m4 0h1m1 0h1m-48 1h1m2 0h1m0 0h1m3 0h1m2 0h1m2 0h1m3 0h1m0 0h1m0 0h1m2 0h1m0 0h1m0 0h1m1 0h1m0 0h1m1 0h1m2 0h1m0 0h1m0 0h1m4 0h1m0 0h1m2 0h1m0 0h1m2 0h1m2 0h1m-51 1h1m0 0h1m0 0h1m1 0h1m0 0h1m1 0h1m0 0h1m0 0h1m0 0h1m1 0h1m0 0h1m0 0h1m3 0h1m0 0h1m0 0h1m0 0h1m6 0h1m0 0h1m0 0h1m0 0h1m0 0h1m4 0h1m4 0h1m0 0h1m2 0h1m1 0h1m1 0h1m0 0h1" stroke="#8e8e8e" stroke-width="1" fill="none" filter="url(#bl)"/>
<path transform="translate(0 0.5)" d="M394 394h1m7 4h1m-27 1h1m34 1h1m-43 1h1m8 0h1m21 0h1m5 0h1m-8 1h1m-21 1h1m1 0h1m-4 1h1m9 1h1m10 0h1m-9 2h1m0 0h1m6 0h1m-9 1h1m0 0h1m24 0h1m-34 1h1m2 0h1m11 0h1m1 0h1m-39 1h1m53 0h1m-42 1h1m10 0h1m18 0h1m-18 2h1m1 0h1m12 0h1m5 0h1m1 0h1m11 0h1m-46 1h1m18 0h1m12 0h1m1 0h1m-52 1h1m34 1h1m14 0h1m-29 1h1m26 0h1m9 1h1m26 0h1m-77 1h1m1 1h1m22 0h1m-3 2h1m50 4h1" stroke="#ababab" stroke-width="1" fill="none" filter="url(#bl)"/>
<rect x="361.5" y="340.8" width="92.60" height="92.20" fill="none" stroke="#505050" stroke-width="1.0"/>
<line x1="359.5" y1="432.03" x2="361.5" y2="432.03" stroke="#333" stroke-width="0.6"/>
<line x1="359.5" y1="429.15" x2="361.5" y2="429.15" stroke="#333" stroke-width="0.6"/>
<line x1="359.5" y1="426.92" x2="361.5" y2="426.92" stroke="#333" stroke-width="0.6"/>
<line x1="359.5" y1="425.1" x2="361.5" y2="425.1" stroke="#333" stroke-width="0.6"/>
<line x1="359.5" y1="423.56" x2="361.5" y2="423.56" stroke="#333" stroke-width="0.6"/>
<line x1="359.5" y1="422.23" x2="361.5" y2="422.23" stroke="#333" stroke-width="0.6"/>
<line x1="359.5" y1="421.05" x2="361.5" y2="421.05" stroke="#333" stroke-width="0.6"/>
<line x1="357.5" y1="420.0" x2="361.5" y2="420.0" stroke="#333" stroke-width="0.6"/>
<line x1="359.5" y1="413.08" x2="361.5" y2="413.08" stroke="#333" stroke-width="0.6"/>
<line x1="359.5" y1="409.03" x2="361.5" y2="409.03" stroke="#333" stroke-width="0.6"/>
<line x1="359.5" y1="406.15" x2="361.5" y2="406.15" stroke="#333" stroke-width="0.6"/>
<line x1="359.5" y1="403.92" x2="361.5" y2="403.92" stroke="#333" stroke-width="0.6"/>
<line x1="359.5" y1="402.1" x2="361.5" y2="402.1" stroke="#333" stroke-width="0.6"/>
<line x1="359.5" y1="400.56" x2="361.5" y2="400.56" stroke="#333" stroke-width="0.6"/>
<line x1="359.5" y1="399.23" x2="361.5" y2="399.23" stroke="#333" stroke-width="0.6"/>
<line x1="359.5" y1="398.05" x2="361.5" y2="398.05" stroke="#333" stroke-width="0.6"/>
<line x1="357.5" y1="397.0" x2="361.5" y2="397.0" stroke="#333" stroke-width="0.6"/>
<line x1="359.5" y1="390.08" x2="361.5" y2="390.08" stroke="#333" stroke-width="0.6"/>
<line x1="359.5" y1="386.03" x2="361.5" y2="386.03" stroke="#333" stroke-width="0.6"/>
<line x1="359.5" y1="383.15" x2="361.5" y2="383.15" stroke="#333" stroke-width="0.6"/>
<line x1="359.5" y1="380.92" x2="361.5" y2="380.92" stroke="#333" stroke-width="0.6"/>
<line x1="359.5" y1="379.1" x2="361.5" y2="379.1" stroke="#333" stroke-width="0.6"/>
<line x1="359.5" y1="377.56" x2="361.5" y2="377.56" stroke="#333" stroke-width="0.6"/>
<line x1="359.5" y1="376.23" x2="361.5" y2="376.23" stroke="#333" stroke-width="0.6"/>
<line x1="359.5" y1="375.05" x2="361.5" y2="375.05" stroke="#333" stroke-width="0.6"/>
<line x1="357.5" y1="374.0" x2="361.5" y2="374.0" stroke="#333" stroke-width="0.6"/>
<line x1="359.5" y1="367.08" x2="361.5" y2="367.08" stroke="#333" stroke-width="0.6"/>
<line x1="359.5" y1="363.03" x2="361.5" y2="363.03" stroke="#333" stroke-width="0.6"/>
<line x1="359.5" y1="360.15" x2="361.5" y2="360.15" stroke="#333" stroke-width="0.6"/>
<line x1="359.5" y1="357.92" x2="361.5" y2="357.92" stroke="#333" stroke-width="0.6"/>
<line x1="359.5" y1="356.1" x2="361.5" y2="356.1" stroke="#333" stroke-width="0.6"/>
<line x1="359.5" y1="354.56" x2="361.5" y2="354.56" stroke="#333" stroke-width="0.6"/>
<line x1="359.5" y1="353.23" x2="361.5" y2="353.23" stroke="#333" stroke-width="0.6"/>
<line x1="359.5" y1="352.05" x2="361.5" y2="352.05" stroke="#333" stroke-width="0.6"/>
<line x1="357.5" y1="351.0" x2="361.5" y2="351.0" stroke="#333" stroke-width="0.6"/>
<line x1="359.5" y1="344.08" x2="361.5" y2="344.08" stroke="#333" stroke-width="0.6"/>
<text transform="translate(356.90,354.00) rotate(-90)" font-size="5.6" font-weight="bold">10<tspan dy="-3.2" font-size="4.8">5</tspan></text>
<text transform="translate(356.90,377.00) rotate(-90)" font-size="5.6" font-weight="bold">10<tspan dy="-3.2" font-size="4.8">4</tspan></text>
<text transform="translate(356.90,400.00) rotate(-90)" font-size="5.6" font-weight="bold">10<tspan dy="-3.2" font-size="4.8">3</tspan></text>
<text transform="translate(356.90,423.00) rotate(-90)" font-size="5.6" font-weight="bold">10<tspan dy="-3.2" font-size="4.8">2</tspan></text>
<text transform="translate(347.50,387.30) rotate(-90)" font-size="6.0" font-weight="bold" text-anchor="middle">c-Kit APC-A</text>
<line x1="362.47" y1="433.0" x2="362.47" y2="435.0" stroke="#333" stroke-width="0.6"/>
<line x1="365.35" y1="433.0" x2="365.35" y2="435.0" stroke="#333" stroke-width="0.6"/>
<line x1="367.58" y1="433.0" x2="367.58" y2="435.0" stroke="#333" stroke-width="0.6"/>
<line x1="369.4" y1="433.0" x2="369.4" y2="435.0" stroke="#333" stroke-width="0.6"/>
<line x1="370.94" y1="433.0" x2="370.94" y2="435.0" stroke="#333" stroke-width="0.6"/>
<line x1="372.27" y1="433.0" x2="372.27" y2="435.0" stroke="#333" stroke-width="0.6"/>
<line x1="373.45" y1="433.0" x2="373.45" y2="435.0" stroke="#333" stroke-width="0.6"/>
<line x1="374.5" y1="433.0" x2="374.5" y2="437.0" stroke="#333" stroke-width="0.6"/>
<line x1="381.42" y1="433.0" x2="381.42" y2="435.0" stroke="#333" stroke-width="0.6"/>
<line x1="385.47" y1="433.0" x2="385.47" y2="435.0" stroke="#333" stroke-width="0.6"/>
<line x1="388.35" y1="433.0" x2="388.35" y2="435.0" stroke="#333" stroke-width="0.6"/>
<line x1="390.58" y1="433.0" x2="390.58" y2="435.0" stroke="#333" stroke-width="0.6"/>
<line x1="392.4" y1="433.0" x2="392.4" y2="435.0" stroke="#333" stroke-width="0.6"/>
<line x1="393.94" y1="433.0" x2="393.94" y2="435.0" stroke="#333" stroke-width="0.6"/>
<line x1="395.27" y1="433.0" x2="395.27" y2="435.0" stroke="#333" stroke-width="0.6"/>
<line x1="396.45" y1="433.0" x2="396.45" y2="435.0" stroke="#333" stroke-width="0.6"/>
<line x1="397.5" y1="433.0" x2="397.5" y2="437.0" stroke="#333" stroke-width="0.6"/>
<line x1="404.42" y1="433.0" x2="404.42" y2="435.0" stroke="#333" stroke-width="0.6"/>
<line x1="408.47" y1="433.0" x2="408.47" y2="435.0" stroke="#333" stroke-width="0.6"/>
<line x1="411.35" y1="433.0" x2="411.35" y2="435.0" stroke="#333" stroke-width="0.6"/>
<line x1="413.58" y1="433.0" x2="413.58" y2="435.0" stroke="#333" stroke-width="0.6"/>
<line x1="415.4" y1="433.0" x2="415.4" y2="435.0" stroke="#333" stroke-width="0.6"/>
<line x1="416.94" y1="433.0" x2="416.94" y2="435.0" stroke="#333" stroke-width="0.6"/>
<line x1="418.27" y1="433.0" x2="418.27" y2="435.0" stroke="#333" stroke-width="0.6"/>
<line x1="419.45" y1="433.0" x2="419.45" y2="435.0" stroke="#333" stroke-width="0.6"/>
<line x1="420.5" y1="433.0" x2="420.5" y2="437.0" stroke="#333" stroke-width="0.6"/>
<line x1="427.42" y1="433.0" x2="427.42" y2="435.0" stroke="#333" stroke-width="0.6"/>
<line x1="431.47" y1="433.0" x2="431.47" y2="435.0" stroke="#333" stroke-width="0.6"/>
<line x1="434.35" y1="433.0" x2="434.35" y2="435.0" stroke="#333" stroke-width="0.6"/>
<line x1="436.58" y1="433.0" x2="436.58" y2="435.0" stroke="#333" stroke-width="0.6"/>
<line x1="438.4" y1="433.0" x2="438.4" y2="435.0" stroke="#333" stroke-width="0.6"/>
<line x1="439.94" y1="433.0" x2="439.94" y2="435.0" stroke="#333" stroke-width="0.6"/>
<line x1="441.27" y1="433.0" x2="441.27" y2="435.0" stroke="#333" stroke-width="0.6"/>
<line x1="442.45" y1="433.0" x2="442.45" y2="435.0" stroke="#333" stroke-width="0.6"/>
<line x1="443.5" y1="433.0" x2="443.5" y2="437.0" stroke="#333" stroke-width="0.6"/>
<line x1="450.42" y1="433.0" x2="450.42" y2="435.0" stroke="#333" stroke-width="0.6"/>
<text x="370.90" y="445.00" font-size="5.8" font-weight="bold">10<tspan dy="-3.4" font-size="4.8">2</tspan></text>
<text x="393.90" y="445.00" font-size="5.8" font-weight="bold">10<tspan dy="-3.4" font-size="4.8">3</tspan></text>
<text x="416.90" y="445.00" font-size="5.8" font-weight="bold">10<tspan dy="-3.4" font-size="4.8">4</tspan></text>
<text x="439.90" y="445.00" font-size="5.8" font-weight="bold">10<tspan dy="-3.4" font-size="4.8">5</tspan></text>
<text x="406.80" y="452.60" font-size="6.0" font-weight="bold" text-anchor="middle">Sca-1 PE-A</text>
<rect x="398.50" y="375.00" width="36.00" height="19.80" fill="none" stroke="#6a6a6a" stroke-width="1.1"/>
<text x="433.30" y="382.80" font-size="6.1" fill="#555" text-anchor="end">KSL</text>
<text x="404.0" y="365.6" font-size="10.5" font-weight="bold" text-anchor="start" fill="#000" >0.1%</text>
<line x1="50.6" y1="558.08" x2="50.6" y2="651.5" stroke="#c8c8c8" stroke-width="0.8"/>
<line x1="50.6" y1="651.5" x2="226.0" y2="651.5" stroke="#c8c8c8" stroke-width="0.8"/>
<line x1="48.6" y1="651.5" x2="50.6" y2="651.5" stroke="#c8c8c8" stroke-width="0.6"/>
<text x="45.8" y="654.45" font-size="9.7" font-weight="bold" text-anchor="end" fill="#000" >0</text>
<line x1="48.6" y1="635.93" x2="50.6" y2="635.93" stroke="#c8c8c8" stroke-width="0.6"/>
<text x="45.8" y="638.88" font-size="9.7" font-weight="bold" text-anchor="end" fill="#000" >20</text>
<line x1="48.6" y1="620.36" x2="50.6" y2="620.36" stroke="#c8c8c8" stroke-width="0.6"/>
<text x="45.8" y="623.31" font-size="9.7" font-weight="bold" text-anchor="end" fill="#000" >40</text>
<line x1="48.6" y1="604.79" x2="50.6" y2="604.79" stroke="#c8c8c8" stroke-width="0.6"/>
<text x="45.8" y="607.74" font-size="9.7" font-weight="bold" text-anchor="end" fill="#000" >60</text>
<line x1="48.6" y1="589.22" x2="50.6" y2="589.22" stroke="#c8c8c8" stroke-width="0.6"/>
<text x="45.8" y="592.17" font-size="9.7" font-weight="bold" text-anchor="end" fill="#000" >80</text>
<line x1="48.6" y1="573.65" x2="50.6" y2="573.65" stroke="#c8c8c8" stroke-width="0.6"/>
<text x="45.8" y="576.6" font-size="9.7" font-weight="bold" text-anchor="end" fill="#000" >100</text>
<line x1="48.6" y1="558.08" x2="50.6" y2="558.08" stroke="#c8c8c8" stroke-width="0.6"/>
<text x="45.8" y="561.03" font-size="9.7" font-weight="bold" text-anchor="end" fill="#000" >120</text>
<rect x="60.00" y="573.65" width="12.80" height="77.85" fill="#000"/>
<rect x="72.80" y="618.50" width="12.80" height="33.00" fill="#bcbcbc" stroke="#666" stroke-width="0.7"/>
<line x1="79.2" y1="616.3" x2="79.2" y2="618.5" stroke="#444" stroke-width="0.8"/>
<line x1="77.7" y1="616.3" x2="80.7" y2="616.3" stroke="#444" stroke-width="0.8"/>
<text x="79.2" y="611.5" font-size="10" font-weight="bold" text-anchor="middle" fill="#000" >*</text>
<rect x="104.00" y="573.65" width="12.90" height="77.85" fill="#000"/>
<rect x="116.90" y="625.00" width="12.90" height="26.50" fill="#bcbcbc" stroke="#666" stroke-width="0.7"/>
<line x1="123.35" y1="618.3" x2="123.35" y2="625.0" stroke="#444" stroke-width="0.8"/>
<line x1="121.85" y1="618.3" x2="124.85" y2="618.3" stroke="#444" stroke-width="0.8"/>
<text x="123.35" y="618.0" font-size="10" font-weight="bold" text-anchor="middle" fill="#000" >*</text>
<rect x="148.00" y="573.65" width="12.70" height="77.85" fill="#000"/>
<rect x="160.70" y="624.20" width="13.30" height="27.30" fill="#bcbcbc" stroke="#666" stroke-width="0.7"/>
<line x1="167.35" y1="614.2" x2="167.35" y2="624.2" stroke="#444" stroke-width="0.8"/>
<line x1="165.85" y1="614.2" x2="168.85" y2="614.2" stroke="#444" stroke-width="0.8"/>
<text x="167.35" y="614.0" font-size="10" font-weight="bold" text-anchor="middle" fill="#000" >*</text>
<rect x="192.30" y="573.65" width="12.90" height="77.85" fill="#000"/>
<rect x="205.20" y="612.00" width="12.80" height="39.50" fill="#bcbcbc" stroke="#666" stroke-width="0.7"/>
<line x1="211.6" y1="602.7" x2="211.6" y2="612.0" stroke="#444" stroke-width="0.8"/>
<line x1="210.1" y1="602.7" x2="213.1" y2="602.7" stroke="#444" stroke-width="0.8"/>
<text x="211.6" y="600.0" font-size="10" font-weight="bold" text-anchor="middle" fill="#000" >*</text>
<text x="60.6" y="666.3" font-size="10" font-weight="bold" text-anchor="start" fill="#000" >Gr-1+</text>
<text x="100.8" y="666.3" font-size="10" font-weight="bold" text-anchor="start" fill="#000" >Mac-1+</text>
<text x="147.3" y="666.3" font-size="10" font-weight="bold" text-anchor="start" fill="#000" >B220+</text>
<text x="187.5" y="666.3" font-size="10" font-weight="bold" text-anchor="start" fill="#000" >Ter119+</text>
<text x="101.1" y="517.5" font-size="12.2" font-weight="bold" text-anchor="start" fill="#000" >Bone marrow</text>
<rect x="129.30" y="541.60" width="4.60" height="4.80" fill="#000"/>
<text x="135.9" y="547.4" font-size="10.2" font-weight="bold" text-anchor="start" fill="#000" >CFSE+ CXCR4+/+</text>
<rect x="129.30" y="555.00" width="4.60" height="4.80" fill="#bcbcbc"/>
<text x="135.9" y="560.3" font-size="10.2" font-weight="bold" text-anchor="start" fill="#000" >CFSE+ CXCR4-/-</text>
<line x1="306.3" y1="559.6" x2="306.3" y2="651.7" stroke="#c8c8c8" stroke-width="0.8"/>
<line x1="306.3" y1="651.7" x2="486.3" y2="651.7" stroke="#c8c8c8" stroke-width="0.8"/>
<line x1="304.3" y1="651.7" x2="306.3" y2="651.7" stroke="#c8c8c8" stroke-width="0.6"/>
<text x="302.6" y="654.65" font-size="9.7" font-weight="bold" text-anchor="end" fill="#000" >0</text>
<line x1="304.3" y1="636.35" x2="306.3" y2="636.35" stroke="#c8c8c8" stroke-width="0.6"/>
<text x="302.6" y="639.3" font-size="9.7" font-weight="bold" text-anchor="end" fill="#000" >20</text>
<line x1="304.3" y1="621.0" x2="306.3" y2="621.0" stroke="#c8c8c8" stroke-width="0.6"/>
<text x="302.6" y="623.95" font-size="9.7" font-weight="bold" text-anchor="end" fill="#000" >40</text>
<line x1="304.3" y1="605.65" x2="306.3" y2="605.65" stroke="#c8c8c8" stroke-width="0.6"/>
<text x="302.6" y="608.6" font-size="9.7" font-weight="bold" text-anchor="end" fill="#000" >60</text>
<line x1="304.3" y1="590.3" x2="306.3" y2="590.3" stroke="#c8c8c8" stroke-width="0.6"/>
<text x="302.6" y="593.25" font-size="9.7" font-weight="bold" text-anchor="end" fill="#000" >80</text>
<line x1="304.3" y1="574.95" x2="306.3" y2="574.95" stroke="#c8c8c8" stroke-width="0.6"/>
<text x="302.6" y="577.9" font-size="9.7" font-weight="bold" text-anchor="end" fill="#000" >100</text>
<line x1="304.3" y1="559.6" x2="306.3" y2="559.6" stroke="#c8c8c8" stroke-width="0.6"/>
<text x="302.6" y="562.55" font-size="9.7" font-weight="bold" text-anchor="end" fill="#000" >120</text>
<rect x="316.20" y="574.95" width="12.80" height="76.75" fill="#000"/>
<rect x="329.00" y="594.20" width="12.80" height="57.50" fill="#bcbcbc" stroke="#666" stroke-width="0.7"/>
<line x1="335.4" y1="589.2" x2="335.4" y2="594.2" stroke="#444" stroke-width="0.8"/>
<line x1="333.9" y1="589.2" x2="336.9" y2="589.2" stroke="#444" stroke-width="0.8"/>
<text x="335.4" y="586.0" font-size="10" font-weight="bold" text-anchor="middle" fill="#000" >*</text>
<rect x="360.50" y="574.95" width="13.00" height="76.75" fill="#000"/>
<rect x="373.50" y="597.50" width="12.80" height="54.20" fill="#bcbcbc" stroke="#666" stroke-width="0.7"/>
<line x1="379.9" y1="593.2" x2="379.9" y2="597.5" stroke="#444" stroke-width="0.8"/>
<line x1="378.4" y1="593.2" x2="381.4" y2="593.2" stroke="#444" stroke-width="0.8"/>
<text x="379.9" y="593.5" font-size="10" font-weight="bold" text-anchor="middle" fill="#000" >*</text>
<rect x="404.50" y="574.95" width="13.00" height="76.75" fill="#000"/>
<rect x="417.50" y="608.00" width="13.00" height="43.70" fill="#bcbcbc" stroke="#666" stroke-width="0.7"/>
<line x1="424.0" y1="605.7" x2="424.0" y2="608.0" stroke="#444" stroke-width="0.8"/>
<line x1="422.5" y1="605.7" x2="425.5" y2="605.7" stroke="#444" stroke-width="0.8"/>
<text x="424.0" y="606.0" font-size="10" font-weight="bold" text-anchor="middle" fill="#000" >*</text>
<rect x="448.70" y="574.95" width="13.50" height="76.75" fill="#000"/>
<rect x="462.20" y="613.70" width="12.80" height="38.00" fill="#bcbcbc" stroke="#666" stroke-width="0.7"/>
<line x1="468.6" y1="609.5" x2="468.6" y2="613.7" stroke="#444" stroke-width="0.8"/>
<line x1="467.1" y1="609.5" x2="470.1" y2="609.5" stroke="#444" stroke-width="0.8"/>
<text x="468.6" y="608.5" font-size="10" font-weight="bold" text-anchor="middle" fill="#000" >*</text>
<text x="315.5" y="666.3" font-size="10" font-weight="bold" text-anchor="start" fill="#000" >Gr-1+</text>
<text x="357.0" y="666.3" font-size="10" font-weight="bold" text-anchor="start" fill="#000" >Mac-1+</text>
<text x="403.7" y="666.3" font-size="10" font-weight="bold" text-anchor="start" fill="#000" >B220+</text>
<text x="444.5" y="666.3" font-size="10" font-weight="bold" text-anchor="start" fill="#000" >Ter119+</text>
<text x="375.3" y="517.5" font-size="12.2" font-weight="bold" text-anchor="start" fill="#000" >Spleen</text>
<rect x="388.60" y="541.60" width="4.60" height="4.80" fill="#000"/>
<text x="396.0" y="547.4" font-size="10.2" font-weight="bold" text-anchor="start" fill="#000" >CFSE+ CXCR4+/+</text>
<rect x="388.60" y="555.00" width="4.60" height="4.80" fill="#bcbcbc"/>
<text x="396.0" y="560.3" font-size="10.2" font-weight="bold" text-anchor="start" fill="#000" >CFSE+ CXCR4-/-</text>
<text transform="translate(22.4,587.8) rotate(-90)" font-size="9.8" font-weight="bold" text-anchor="middle" fill="#000">Homing (percentage of control)</text>
</svg></body></html>
